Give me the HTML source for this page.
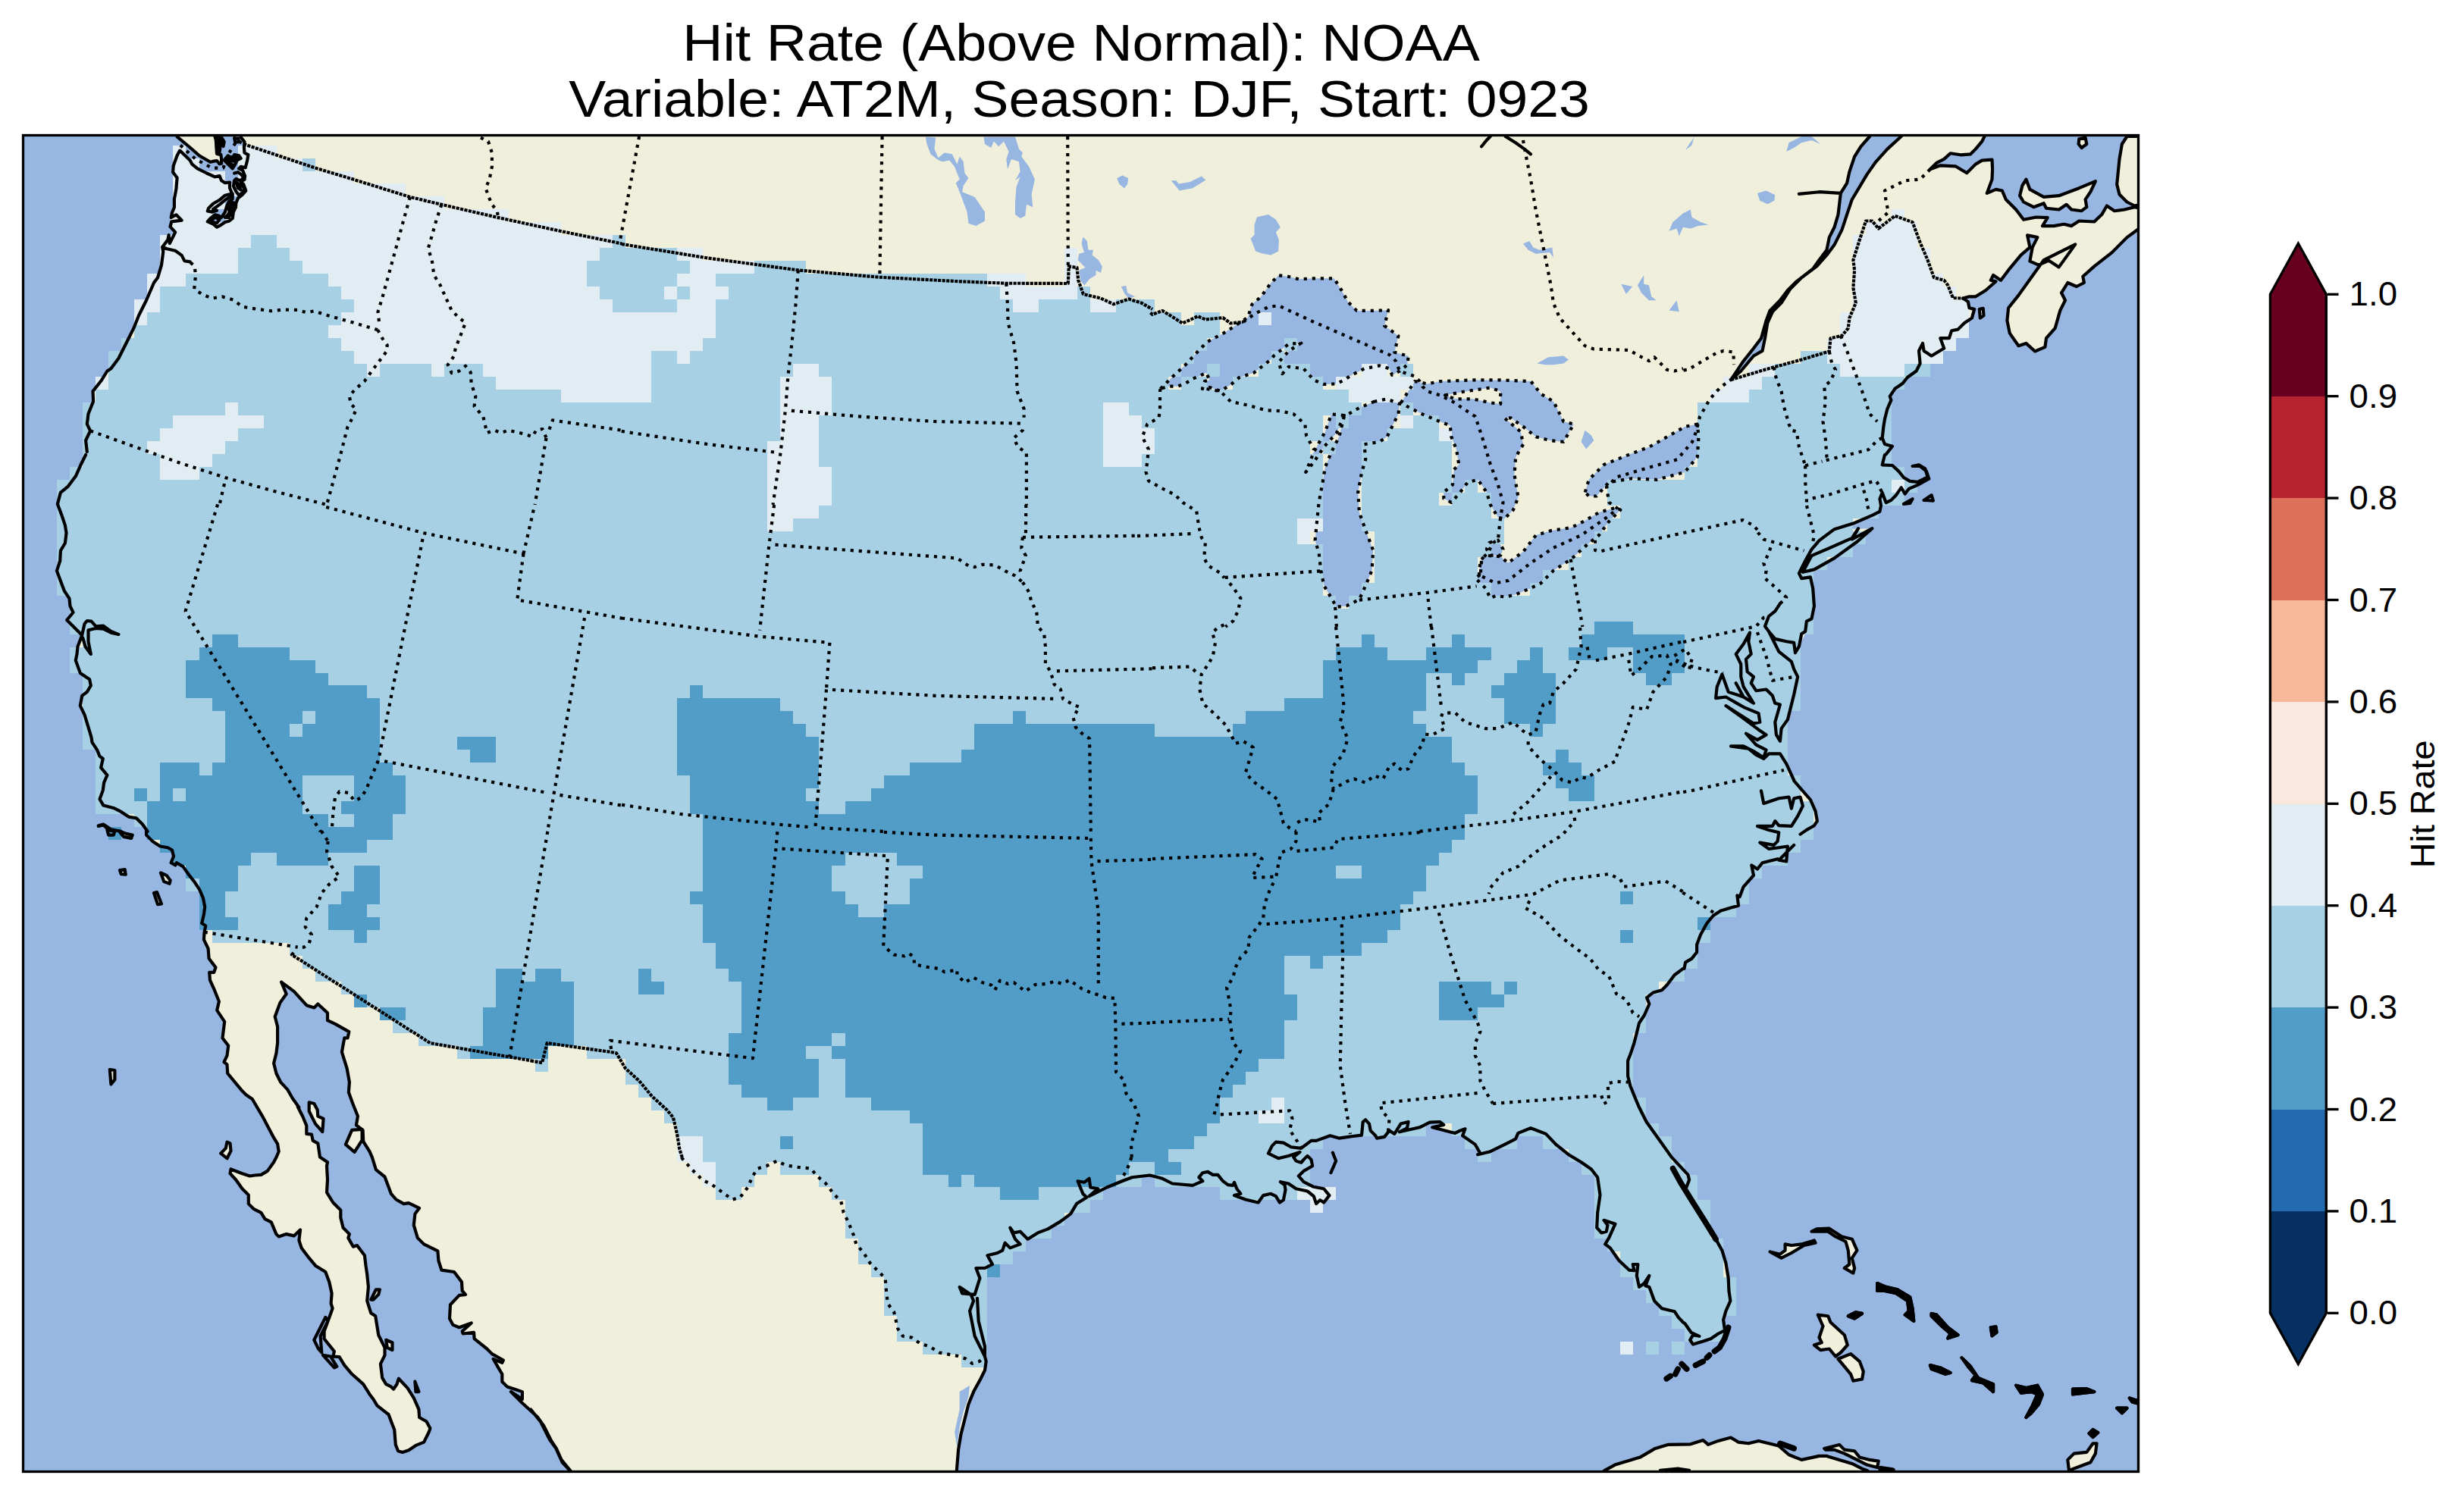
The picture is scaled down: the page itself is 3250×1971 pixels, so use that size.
<!DOCTYPE html>
<html><head><meta charset="utf-8"><title>Hit Rate</title>
<style>html,body{margin:0;padding:0;background:#fff}body{width:3250px;height:1971px;position:relative;overflow:hidden;font-family:"Liberation Sans",sans-serif}</style></head>
<body>
<svg width="3250" height="1971" viewBox="0 0 3250 1971" style="position:absolute;left:0;top:0">
<defs><clipPath id="fr"><rect x="30.5" y="178.5" width="2790.0" height="1763.0"/></clipPath></defs>
<g clip-path="url(#fr)">
<rect x="0" y="0" width="3250" height="1971" fill="#97b6e1"/>
<path d="M318.8 120 317.6 181 322.5 187.1 327.4 204.1 323.7 221.2 323.1 232.1 324.3 251.6 314 261.4 310.9 273.5 306.7 288.1 286 299.7 273.8 292.4 275 274.8 296.9 257.7 303 248 303 240.6 292.1 238.2 283.5 233.3 260.4 222.4 250.6 211.4 237.2 198.6 228.7 218.7 233.6 234.6 229.9 273.5 225.7 286.9 224.5 299.1 231.2 306.4 214.1 325.9 213 349.7 208 366.3 203 373 193 396.3 183 416.3 176.4 432.9 168.1 449.5 156.4 472.8 146.4 486.2 141.4 489.5 133.1 502.8 122.5 516.1 123.1 529.4 116.5 546.1 114.8 559.4 119.1 568.4 113.1 581 114.8 596 113.1 600 106.5 613.3 99.8 628.3 89.9 641.6 79.9 649.9 75.9 664.9 81.5 679.9 85.9 693.2 87.5 703.2 85.9 716.5 79.9 726.5 79.2 739.8 74.9 753.1 79.9 766.4 84.9 779.7 91.5 789.7 92.5 799.7 96.5 808 88.2 818 98.2 828 108.2 837.9 102.5 852.9 101.5 862.9 99.8 871.2 105.8 887.9 118.1 896.2 119.8 904.5 114.8 912.8 108.2 917.8 105.8 931.1 111.5 942.8 116.5 959.4 120.5 972.7 121.5 979.4 128.1 989.4 131.5 997.7 135.8 1001 133.1 1012.7 141.4 1022.6 137.1 1032.6 135.8 1042.6 131.5 1054.3 136.4 1062.6 149.8 1065.9 159.7 1070.9 169.7 1077.6 179.7 1079.2 188 1087.5 194.7 1096.9 193 1101.6 201.3 1109.9 211.3 1116.5 221.3 1118.2 227 1121.5 229 1129.8 225.6 1138.2 231.3 1141.5 233 1138.2 241.3 1143.1 249.6 1154.8 256.2 1163.1 262.9 1173.1 267.9 1184.7 270.2 1196.4 268.9 1206.4 266.2 1218 271.2 1221.4 269.6 1229.7 268.9 1239.7 274.6 1251.3 275.6 1264.6 284.5 1276.3 282.2 1282.9 276.2 1282.9 276.9 1292.9 282.9 1306.2 288.9 1321.2 286.2 1332.8 296.2 1347.8 293.5 1369.4 301.2 1379.4 299.5 1392.7 295.5 1401.1 299.5 1404.4 300.2 1416 319.5 1439.3 324.5 1444.3 332.8 1450 346.1 1472.6 361.1 1500.9 366.1 1509.2 367.7 1519.2 364.4 1526.9 361.1 1533.2 352.8 1544.9 344.4 1549.9 336.1 1550.5 329.5 1551.5 319.5 1548.2 304.5 1542.5 303.5 1548.2 311.2 1556.5 319.5 1568.2 327.8 1576.5 327.8 1588.1 334.5 1594.8 344.4 1599.8 349.4 1608.1 357.8 1612.4 364.4 1628.1 367.7 1631.4 377.7 1628.1 387.7 1630.4 396 1622.4 394.4 1636.4 397.7 1646.4 407.7 1659.7 416 1669.7 429.3 1678 434.3 1691.3 437.6 1706.3 436.6 1719.6 438.6 1726.2 432.6 1742.9 427.6 1756.2 427.6 1766.2 440.9 1782.8 439.3 1789.5 447.6 1790.1 454.3 1801.1 464.2 1812.8 479.2 1826.1 487.5 1839.4 492.5 1846 497.5 1854.4 512.5 1866 517.5 1879.3 520.2 1886 521.8 1905.9 525.1 1914.3 530.8 1915.9 539.1 1913.3 549.1 1906.6 559.1 1902.6 565.7 1889.3 567.4 1884.3 562.4 1875.3 553.1 1870 552.4 1859.4 545.8 1844.4 537.5 1831.1 525.8 1818.8 523.5 1826.1 519.2 1832.7 515.8 1829.4 509.2 1826.1 504.2 1817.8 501.9 1799.4 507.5 1787.8 507.5 1777.8 499.2 1761.2 495.2 1736.2 489.2 1732.2 484.2 1716.2 485.9 1697.9 484.2 1681.3 482.5 1669.7 480.9 1656.3 470.9 1643 465.9 1644.7 459.3 1633.1 460.9 1628.1 452.6 1619.7 449.3 1606.4 449.3 1596.4 439.3 1586.5 431 1573.1 432 1556.5 431 1538.2 432 1533.2 422 1526.6 419.3 1508.3 412.7 1504.9 411 1496.6 404.3 1495.9 404.3 1485 399.4 1473.3 392.7 1460 386 1449.3 379.4 1437.7 370.1 1427.7 364.4 1416 361.1 1402.7 364.4 1389.4 366.1 1376.1 366.1 1354.5 362.7 1341.2 369.4 1322.9 377.7 1311.2 371.1 1295.6 387.7 1307.9 404.3 1326.2 414.3 1329.5 419.3 1324.5 432 1336.2 432 1346.2 442.6 1351.1 460.3 1361.1 458.6 1369.4 454.3 1369.4 450.9 1387.8 457.6 1409.4 460.9 1427.7 459.9 1441 465.9 1457.6 471.9 1472.6 469.9 1484.3 478.6 1490.9 479.2 1505.9 487.5 1519.2 490.9 1526.9 495.9 1543.2 507.5 1552.5 515.8 1574.8 522.5 1582.5 532.5 1588.1 539.1 1587.1 553.1 1593.8 547.4 1601.4 545.8 1616.4 550.8 1633.1 559.1 1641.4 577.4 1650.4 578.4 1663 582.4 1675.6 599 1678 609 1691.3 609.7 1702.9 614 1707.9 605.7 1708.9 594 1721.2 593 1739.5 597.4 1747.9 605.7 1751.2 621.7 1745.5 609.7 1756.2 610.7 1759.5 625 1757.8 625.6 1766.2 642.3 1779.5 648.9 1786.1 663.9 1794.5 662.3 1797.8 650.6 1792.8 657.3 1804.4 662.3 1812.8 662.3 1822.7 668.9 1829.4 678.9 1832.7 688.9 1836.1 688.9 1846 673.9 1836.1 688.9 1851 708.8 1869.3 717.2 1881 727.2 1900.9 733.8 1910.9 740.5 1925.9 752.8 1940.9 758.8 1949.2 760 2000 1260 2000 1260.8 1952.5 1261.8 1940.9 1264.1 1912.6 1267.4 1892.6 1272.4 1872.7 1277.4 1852.7 1284.1 1836.1 1292.4 1821.1 1299 1807.8 1300.7 1796.1 1299 1789.5 1292.4 1776.2 1285.7 1762.8 1282.4 1746.2 1279.1 1729.6 1284.1 1716.2 1280.7 1707.9 1265.7 1697.9 1269.1 1706.3 1285.7 1707.9 1292.4 1686.3 1287.4 1673 1299 1673 1309 1668 1302.4 1656.3 1315.7 1653 1322.3 1649.7 1325.6 1639.7 1332.3 1646.4 1345.6 1641.4 1339 1634.7 1332.3 1619.7 1337.3 1626.4 1345.6 1624.7 1355.6 1634.7 1368.9 1626.4 1382.2 1621.4 1398.9 1611.4 1412.2 1601.4 1420 1588.1 1433.3 1579.8 1428.3 1574.8 1421.6 1558.2 1430 1559.8 1436.6 1554.8 1438.3 1566.5 1448.3 1568.2 1436.6 1578.1 1459.9 1566.5 1479.9 1558.2 1493.2 1553.2 1516.5 1550.5 1533.1 1554.8 1546.4 1561.5 1573.1 1563.8 1586.4 1558.2 1581.4 1553.2 1586.4 1547.2 1593 1545.9 1599.7 1549.9 1606.3 1549.9 1613 1558.2 1619.6 1563.2 1626.3 1563.8 1628 1559.8 1631.3 1568.2 1636.3 1574.8 1628 1577.1 1642.9 1582.5 1659.6 1586.5 1666.2 1577.1 1676.2 1574.8 1682.9 1578.1 1687.9 1586.5 1692.9 1583.1 1695.5 1569.8 1694.5 1563.2 1688.9 1559.2 1699.5 1561.5 1709.5 1568.2 1724.5 1571.5 1732.8 1578.1 1736.1 1588.1 1741.1 1583.1 1746.1 1586.5 1753.4 1577.1 1746.1 1568.2 1732.8 1565.8 1719.5 1559.2 1712.8 1551.5 1719.5 1544.9 1731.1 1538.2 1729.5 1529.9 1724.5 1524.9 1719.5 1529.9 1716.2 1533.9 1709.5 1531.6 1706.2 1526.6 1714.5 1519.9 1699.5 1524.9 1686.2 1528.2 1672.9 1521.6 1677.9 1511.6 1682.9 1506.6 1692.9 1507.6 1702.8 1513.2 1716.2 1514.9 1729.5 1504.9 1736.1 1504.9 1754.4 1498.3 1766.1 1501.6 1782.7 1499.3 1796 1497.6 1797.7 1480 1801 1477.3 1806 1482.6 1807.7 1491.6 1814.3 1498.3 1816 1501.6 1826 1499.9 1832.6 1491.6 1839.3 1495.9 1847.6 1482.6 1857.6 1480 1855.9 1488.3 1845.9 1493.3 1872.6 1487.3 1885.9 1480.6 1899.2 1480 1904.2 1484 1889.2 1487.3 1919.2 1494.9 1925.8 1491.6 1932.5 1489.3 1929.1 1498.3 1945.8 1509.9 1952.4 1521.6 1949.1 1523.2 1965.7 1519.2 1985.7 1509.3 1999 1502.6 2002.4 1494.9 2019 1488.3 2039 1495.9 2052.3 1509.9 2068.9 1523.2 2085.6 1533.2 2098.9 1542.5 2107.2 1553.2 2110.5 1576.5 2107.2 1599.8 2106.2 1619.7 2112.2 1626.4 2118.8 1624.7 2120.5 1616.4 2115.5 1609.8 2130.5 1614.7 2122.2 1633.1 2117.2 1641.4 2123.8 1646.4 2135.5 1663 2148.8 1675.6 2155.4 1676.3 2153.8 1668 2160.4 1668 2158.8 1683 2162.1 1697.9 2168.8 1693 2175.4 1683 2170.4 1696.3 2175.4 1697.9 2182.1 1716.2 2192 1726.2 2208.7 1730.2 2213.7 1737.9 2220 1744.5 2222.5 1746.2 2230.5 1757.8 2241.4 1762.8 2233.1 1761.2 2229.1 1767.8 2233.1 1773.5 2246.4 1769.5 2256.4 1766.2 2266.4 1759.5 2273.1 1756.2 2278 1752.9 2274.7 1752.9 2273.1 1741.2 2276.4 1729.6 2282.4 1716.2 2280.4 1702.9 2279.7 1686.3 2276.4 1666.3 2271.4 1649.7 2263.1 1634.7 2259.7 1626.4 2243.1 1599.8 2223.1 1569.8 2228.1 1556.5 2226.5 1549.9 2204.8 1526.6 2188.2 1503.3 2171.6 1480 2161.6 1460 2157.1 1449.3 2150.4 1432.7 2147.1 1419.4 2147.1 1399.4 2150.4 1391.1 2155.4 1376.1 2158.8 1362.8 2162.1 1349.5 2168.8 1339.5 2175.4 1324.5 2172.1 1316.2 2180.4 1309.5 2192 1306.2 2198.7 1299.6 2208.7 1286.2 2220 1277.9 2221.5 1277.9 2223.1 1269.6 2231.5 1264.6 2238.1 1256.3 2238.1 1246.3 2243.1 1233 2251.4 1218 2259.7 1208 2269.7 1201.4 2281.4 1198.1 2293 1194.7 2291.4 1181.4 2294.7 1183.1 2299.7 1169.8 2313 1154.8 2310.3 1141.5 2318 1146.5 2324.6 1138.2 2344.6 1133.2 2374.6 1100.6 2382.9 1094.9 2392.9 1089.2 2396.9 1083.2 2394.5 1069.9 2387.9 1055 2376.2 1041.6 2366.2 1030 2356.2 1007.7 2347.9 977.7 2362.9 929.5 2371.2 892.9 2367.9 861.2 2382.9 833 2392.9 799.7 2389.5 756.4 2419.5 736.4 2469.4 697.2 2419.5 698.2 2469.4 679.9 2482.7 666.6 2516 646.6 2544.3 631.6 2519.3 634.9 2504.3 621.6 2482.7 613.3 2486 600 2487.7 599.3 2496 588.7 2486 586 2482.7 577.7 2484.4 562.7 2486 552.7 2489.4 539.4 2494.4 527.8 2492.7 522.8 2499.4 512.8 2509.3 506.1 2516 497.8 2527.6 489.5 2532.6 479.5 2531 462.9 2536 452.9 2537.6 462.9 2547.6 469.5 2564.2 459.5 2559.3 446.2 2570.9 446.2 2574.2 436.2 2582.5 434.6 2590.9 426.2 2600.9 419.6 2604.2 407.9 2597.5 406.3 2595.9 398 2589.2 393.6 2597.5 391.3 2605.8 391.3 2619.2 383 2632.5 371.3 2625.8 369.7 2629.1 363 2639.1 369.7 2649.1 356.4 2665.7 336.4 2677.4 326.4 2674.1 310.4 2687.4 313.1 2680.7 326.4 2677.4 344.7 2689 349.7 2702.4 343.7 2715.7 352.4 2737.3 322.4 2715.7 333.1 2695.7 343.1 2679.1 366.3 2662.4 389.6 2649.1 406.3 2647.4 422.9 2650.8 439.6 2662.4 456.2 2672.4 452.9 2684.1 463.5 2697.4 457.9 2699 446.2 2710.7 432.9 2717.3 409.6 2724 396.3 2719 386.3 2727.3 373 2739 378 2748.9 373 2747.3 364.7 2762.3 351.4 2785.6 333.1 2805.5 313.1 2823.8 299.8 2900 300 2900 275 2823.8 274.8 2815.5 273.2 2802.2 276.5 2788.9 278.2 2778.9 271.5 2772.2 283.1 2762.3 292.5 2742.3 291.5 2732.3 298.1 2722.3 295.8 2709 298.1 2694 298.1 2700.7 287.1 2685.7 286.5 2669.1 289.8 2659.1 276.5 2645.8 263.2 2640.8 251.5 2632.5 249.9 2620.8 254.9 2627.5 236.6 2628.1 223.2 2627.5 210.6 2614.2 211.6 2605.8 216.6 2594.2 228.2 2579.2 219.3 2559.3 218.3 2545.9 223.2 2554.3 214.9 2564.2 209.9 2572.6 202.3 2585.9 204.3 2599.2 203.3 2605.8 196.6 2614.2 186.6 2617.5 180 2617.5 120 2507.7 120 2507.7 180 2489.4 196.6 2474.4 213.3 2462.7 229.9 2452.8 246.5 2442.8 263.2 2436.1 283.1 2429.5 303.1 2419.5 323.1 2409.5 336.4 2396.2 351.4 2376.2 366.3 2361.2 381.3 2349.6 399.6 2337.9 411.3 2331.3 426.2 2328 446.2 2324.6 462.9 2313 469.5 2296.3 489.5 2283 501.1 2299.7 476.2 2313 459.5 2323 446.2 2329.6 422.9 2334.6 409.6 2347.9 396.3 2357.9 383 2369.6 371.3 2391.2 354.7 2399.5 343.1 2409.5 329.7 2412.8 313.1 2419.5 299.8 2424.5 283.1 2426.1 269.8 2427.8 254.9 2436.1 241.6 2439.4 226.6 2446.1 206.6 2454.4 193.3 2466.1 180 2466 120ZM233.6 120 233.6 180.4 248.2 192.5 262.8 205.3 277.4 213.8 282.3 212.6 286 212 289.6 216.3 292.1 215.7 292.1 210.2 291.4 204.1 286 202.9 285.4 194.4 284.8 184.6 283.5 180.4 283.5 120ZM1906 521.4 1932.6 516.4 1965.9 511.4 1979.2 516.4 1979.2 533 1965.9 531.3 1942.6 526.3 1919.3 526.3ZM2805.5 180 2798.9 190 2795.5 209.9 2792.2 243.2 2795.5 256.5 2805.5 266.5 2815.5 271.5 2823.8 269.8 2823.8 180ZM2672.4 236.6 2677.4 249.9 2695.7 259.9 2715.7 258.2 2742.3 248.2 2763.9 239.2 2757.3 253.2 2750.6 263.2 2752.3 273.2 2745.6 278.2 2732.3 276.5 2725.6 269.8 2715.7 276.5 2699 274.8 2695.7 268.2 2682.4 273.2 2669.1 266.5 2664.1 258.2 2667.4 244.9ZM2742.3 183.3 2750.6 181.6 2752.3 190 2745.6 195 2741.6 190ZM2610.8 407.9 2615.8 406.9 2616.5 416.3 2611.8 419.6ZM407.7 1454.3 414.3 1456 418.7 1464.3 419.3 1472.6 426.6 1475.9 425.3 1493.2 416 1482.6 407.7 1466ZM464.2 1490.9 477.6 1489.9 477.6 1504.2 467.6 1519.9 455.9 1509.9ZM141.4 1094.9 151.4 1096.6 149.8 1101.6 143.1 1101.6ZM156.4 1095.9 166.4 1099.9 174.7 1101.6 173.1 1105.9 163.1 1103.9ZM158.1 1148.1 164.7 1147.1 165.7 1153.8 159.7 1153.1ZM212 1151.5 219.6 1154.8 224.6 1161.5 223.6 1165.8 216.3 1163.1ZM203 1178.1 207 1177.1 213 1192.4 208 1193.1ZM144.8 1411 151.4 1412 151.4 1424.4 146.4 1430.3ZM291.2 1521.6 297.8 1514.9 299.5 1506.6 303.5 1508.3 304.5 1518.2 299.5 1528.2ZM489.2 1714.6 495.9 1701.3 500.9 1701.3 499.2 1707.9 492.5 1714.6ZM509.2 1767.8 517.5 1771.2 517.5 1781.1 510.8 1777.8ZM547.4 1822.7 552.4 1836.1 548.4 1836.1ZM2110 1945.9 2116.6 1939.9 2130 1932.6 2163.2 1922.6 2183.2 1910.9 2199.8 1905.9 2229.8 1905.3 2246.4 1900 2253.1 1905.9 2266.4 1900.9 2283 1896.6 2293 1902.6 2306.3 1904.3 2319.6 1900.9 2333 1904.3 2346.3 1907.6 2359.6 1919.3 2376.2 1925.9 2399.5 1920.9 2409.5 1920.9 2426.1 1925.9 2442.8 1930.9 2456.1 1937.6 2462.7 1939.9 2469.4 1945.9ZM2406.2 1910.9 2426.1 1905.9 2432.8 1912.6 2446.1 1914.3 2452.8 1922.6 2466.1 1925.9 2477.7 1927.6 2476.1 1935.9 2462.7 1932.6 2449.4 1925.9 2432.8 1917.6 2419.5 1912.6 2407.8 1912.6ZM2334.6 1651.4 2349.6 1659.7 2362.9 1653 2379.5 1643 2394.5 1639.7 2392.9 1636.4 2376.2 1641.4 2362.9 1643 2354.6 1641.4 2354.6 1649.7 2347.9 1654.7ZM2389.5 1624.7 2396.2 1621.4 2412.8 1620.7 2429.5 1631.4 2442.8 1634.7 2449.4 1649.7 2442.8 1659.7 2446.1 1673 2444.4 1679.6 2432.8 1673 2439.4 1668 2437.8 1649.7 2434.5 1638 2421.1 1631.4 2411.2 1624.7 2399.5 1624.7ZM2397.8 1734.6 2411.2 1736.2 2414.5 1744.5 2432.8 1761.2 2436.8 1774.5 2427.8 1784.5 2421.1 1789.5 2412.8 1779.5 2401.2 1781.1 2392.9 1774.5 2402.8 1771.2 2399.5 1764.5 2404.5 1749.5ZM2424.5 1792.8 2441.1 1786.1 2452.8 1796.1 2457.8 1809.4 2456.1 1819.4 2444.4 1821.7 2441.1 1812.8 2432.8 1802.8ZM2437.8 1736.2 2447.8 1731.2 2456.1 1732.9 2446.1 1739.5ZM2476.1 1693 2487.7 1697.9 2502.7 1701.3 2519.3 1711.3 2522.6 1726.2 2524.3 1742.9 2512.7 1734.6 2517.7 1729.6 2516 1716.2 2501 1706.3 2486 1702.9 2476.1 1702.9ZM2547.6 1732.9 2554.3 1734.6 2569.2 1751.2 2582.5 1761.2 2569.2 1765.5 2572.6 1759.5 2559.3 1747.9 2547.6 1736.2ZM2625.8 1751.2 2632.5 1750.2 2633.5 1757.8 2627.5 1762.2ZM2545.9 1801.1 2559.3 1804.4 2572.6 1811.1 2565.9 1812.8 2547.6 1806.1ZM2587.5 1791.1 2599.2 1802.8 2609.2 1817.8 2629.1 1826.1 2629.1 1836.1 2615.8 1824.4 2600.9 1821.1 2605.8 1814.4 2595.9 1802.8ZM2659.1 1827.7 2672.4 1831.1 2687.4 1827.7 2694 1839.4 2689 1852.7 2679.1 1864.3 2672.4 1870 2680.7 1854.4 2687.4 1839.4 2679.1 1836.1 2665.7 1837.7ZM2734 1832.7 2752.3 1832.1 2762.3 1836.1 2748.9 1837.7 2734 1839.4ZM2792.2 1857.7 2805.5 1857.7 2798.9 1864.3ZM2808.8 1844.4 2823.8 1849.4 2823.8 1852.7 2812.2 1849.4ZM2727.3 1925.9 2735.6 1917.6 2752.3 1915.9 2760.6 1904.3 2765.6 1904.3 2763.9 1917.6 2757.3 1929.2 2729 1939.9ZM2755.6 1891 2760.6 1886 2767.2 1890 2760.6 1896Z" fill="#efefdb"/>
<path d="M1220.8 180.6 1234.1 181.6 1232.5 196.6 1237.5 208.3 1245.8 201.6 1255.8 203.3 1262.4 216.6 1265.7 206.6 1270.7 213.3 1272.4 228.2 1277.4 234.9 1270.7 244.9 1269.1 253.2 1285.7 259.9 1299 279.8 1299 291.5 1287.4 298.1 1277.4 294.8 1275.7 279.8 1265.7 253.2 1260.8 241.6 1265.7 236.6 1259.1 219.9 1252.4 211.6 1242.5 213.3 1235.8 209.9 1227.5 203.3 1222.5 190ZM1297.4 180.6 1339 180.6 1344 196.6 1348.9 201.6 1347.3 206.6 1357.3 219.9 1364.9 236.6 1360.6 256.5 1362.3 273.2 1353.9 269.8 1352.3 284.8 1345.6 288.1 1339 283.1 1339 266.5 1340.6 246.5 1345.6 233.2 1339 238.2 1345.6 226.6 1344 213.3 1334 209.9 1329 223.2 1327.3 209.9 1330.6 200 1324 186.6 1317.3 193.3 1310.7 186.6 1307.3 195 1299 190ZM1473.7 234.9 1480.4 231.6 1488.1 234.9 1487.1 243.2 1482.7 248.2 1477.1 243.2ZM1428.8 313.1 1433.8 318.1 1435.5 329.7 1442.1 329.7 1440.5 336.4 1448.8 343.1 1453.8 351.4 1452.1 359.7 1445.5 356.4 1445.5 363 1437.1 368 1430.5 376.3 1425.5 369.7 1423.8 356.4 1432.1 353 1422.2 343.1 1423.8 334.7 1430.5 333.1 1427.2 321.4ZM1478.7 378 1485.4 377 1487.1 386.3 1497 391.3 1503.7 389.6 1488.7 393.6 1483.7 388ZM1657.9 286.5 1672.9 283.1 1682.9 289.8 1688.9 299.8 1682.9 306.4 1686.9 316.4 1686.2 331.4 1676.2 336.4 1666.2 334.7 1656.2 331.4 1649.6 314.8 1654.6 309.8 1654.6 296.5ZM1473.2 234.9 1481.5 231.6 1488.2 238.2 1483.2 248.2 1476.5 243.2ZM1544.8 238.2 1551.4 238.2 1554.7 242.5 1569.7 239.9 1584.7 232.6 1590.4 237.6 1573.1 248.2 1555.7 251.5ZM2009 321.4 2017.3 318.1 2022.3 326.4 2030.6 329.7 2047.3 326.4 2048.9 339.7 2044 333.1 2025.6 334.7 2015.7 329.7ZM2027.3 479.5 2042.3 471.2 2062.3 469.5 2068.9 474.5 2062.3 479.5 2048.9 481.2 2039 481.2ZM2090.5 567.7 2098.9 574.3 2102.2 581 2092.2 592.6 2085.6 582.7ZM1428.3 313.1 1433.3 318.1 1434.9 329.7 1441.6 329.7 1439.9 336.4 1448.3 343.1 1453.2 351.4 1451.6 359.7 1444.9 356.4 1444.9 363 1436.6 368 1430 376.3 1425 369.7 1423.3 356.4 1431.6 353 1421.6 343.1 1423.3 334.7 1430 333.1 1426.6 321.4ZM1530.6 513 1546.9 496.7 1562.9 482.1 1577.9 465.8 1592.2 451.1 1613.5 439.8 1626.5 431.5 1646.1 418.5 1651.4 401.6 1663.1 391.6 1676.4 373.3 1686.4 363.3 1699.7 364.9 1713 368.3 1733 367.3 1759.6 367.3 1769.6 383.2 1777.9 398.2 1789.5 409.9 1809.5 409.9 1831.1 409.2 1826.1 429.8 1844.4 443.1 1839.4 464.8 1857.8 469.8 1856.1 481.4 1846.1 489.7 1836.1 494.7 1832.8 486.4 1819.5 482.4 1799.5 486.4 1782.9 494.7 1772.9 501.4 1762.9 506.4 1746.3 507 1733 501.4 1719.6 486.4 1699.7 483.8 1691.4 493.1 1686.4 478.1 1699.7 463.1 1716.3 452.5 1699.7 453.8 1679.7 469.8 1677 473.8 1664.1 483.8 1654.1 491.7 1634.4 498.1 1624.8 506.4 1610.2 516 1595.5 511 1585.9 513 1588.9 503.1 1595.5 501.4 1590.9 491.7 1580.9 496.7 1572.9 499.7 1562.9 506.4 1553.2 509.7 1540.3 509.7ZM1812.8 529.7 1792.9 538 1772.9 549.6 1766.2 576.3 1756.2 596.2 1747.9 616.2 1744.6 636.2 1739.6 662.8 1736.9 689.4 1734.6 712.7 1739.6 729.4 1742.3 752.6 1746.3 772.6 1756.2 789.3 1762.9 800.9 1776.2 799.2 1792.9 790.9 1801.2 772.6 1809.5 752.6 1811.2 726 1801.2 699.4 1792.9 676.1 1791.2 649.5 1796.2 622.9 1801.2 606.2 1799.5 586.2 1819.5 582.9 1829.5 576.3 1836.1 563 1844.4 546.3 1846.1 533 1829.5 526.3ZM1772.9 548 1756.2 546.3 1747.9 569.6 1733 596.2 1722.3 622.9 1733 609.5 1746.3 589.6 1762.9 571.3ZM1847.8 531.3 1866.1 503.1 1882.7 506.4 1899.4 503.1 1942.6 501.4 1979.2 501.4 2019.2 503.1 2032.5 519.7 2049.1 529.7 2062.4 556.3 2075.7 559.6 2062.4 582.9 2045.8 581.3 2025.8 576.3 2009.2 563 1992.5 551.3 1984.2 551.3 2005.8 569.6 2009.2 586.2 1999.2 602.9 1997.5 626.2 2002.5 656.1 1995.9 672.8 1984.2 684.4 1975.9 682.8 1965.9 666.1 1960.9 649.5 1949.3 632.8 1936 636.2 1926 649.5 1914.3 662.8 1904.3 657.8 1904.3 649.5 1916 639.5 1917.7 619.5 1924.3 612.9 1921 592.9 1914.3 576.3 1912.7 561.3 1899.4 556.3 1876.1 546.3 1859.4 538ZM1950.9 759.3 1952.6 739.3 1959.3 732.7 1979.2 734.3 1989.2 742.7 2009.2 727.7 2025.8 706.1 2045.8 700.1 2072.4 696.1 2089 687.8 2109 676.1 2132.3 669.4 2137.3 672.8 2122.3 687.8 2109 706.1 2092.4 719.4 2072.4 737.7 2049.1 752.6 2032.5 769.3 2019.2 775.9 1999.2 784.3 1985.9 787.6 1972.6 785.9 1965.9 789.3 1959.3 775.9 1945.9 762.6ZM1964.2 716 1975.9 712.7 1982.5 724.4 1979.2 732.7 1965.9 732.7 1960.9 724.4ZM2090.7 649.5 2095.7 632.8 2115.7 612.9 2148.9 599.6 2175.6 589.6 2198.9 576.3 2222.2 563 2238.8 559.6 2240.5 576.3 2238.8 602.9 2222.2 622.9 2185.6 632.8 2152.3 631.2 2122.3 636.2 2105.7 654.5 2095.7 654.5ZM2318 254.9 2329.6 251.5 2341.3 257.2 2340.3 264.8 2331.3 269.2 2321.3 264.8ZM2201.5 304.8 2206.5 293.1 2219.8 281.5 2229.8 276.5 2231.5 286.5 2243.1 293.1 2253.1 296.5 2239.8 298.1 2229.8 301.5 2219.8 299.8 2214.8 311.4 2211.5 301.5ZM2138.3 374.7 2153.2 378 2144.9 388ZM2159.9 376.3 2168.2 363 2168.2 374.7 2174.9 376.3 2178.2 391.3 2184.9 396.3 2174.9 396.3 2164.9 386.3ZM2201.5 409.6 2211.5 396.3 2214.8 411.3ZM2356.2 200 2359.6 188.3 2376.2 180 2389.5 180 2401.2 190 2389.5 185 2376.2 188.3 2366.2 195ZM2223.1 198.3 2228.1 190 2233.1 183.3 2234.8 180.6 2231.5 191.6ZM1265.7 1836.1 1279.1 1827.7 1277.4 1842.7 1270.7 1862.7 1265.7 1882.6 1262.4 1909.3 1259.1 1889.3 1265.7 1859.4Z" fill="#97b6e1"/>
<path d="M1906 521.4 1932.6 516.4 1965.9 511.4 1979.2 516.4 1979.2 533 1965.9 531.3 1942.6 526.3 1919.3 526.3Z" fill="#efefdb"/>
<g shape-rendering="crispEdges">
<path d="M398.8 208.5H415.8V225.5H398.8ZM330.6 310.3H364.7V327.3H330.6ZM807.8 310.3H824.8V327.3H807.8ZM313.6 327.3H381.8V344.3H313.6ZM790.7 327.3H893V344.3H790.7ZM313.6 344.3H398.8V361.2H313.6ZM773.7 344.3H910V361.2H773.7ZM995.2 344.3H1063.3V361.2H995.2ZM245.4 361.2H432.9V378.2H245.4ZM773.7 361.2H893V378.2H773.7ZM944.1 361.2H1301.9V378.2H944.1ZM211.4 378.2H449.9V395.2H211.4ZM790.7 378.2H875.9V395.2H790.7ZM893 378.2H910V395.2H893ZM961.1 378.2H1318.9V395.2H961.1ZM1421.2 378.2H1438.2V395.2H1421.2ZM211.4 395.2H467V412.2H211.4ZM807.8 395.2H893V412.2H807.8ZM944.1 395.2H1336V412.2H944.1ZM1370.1 395.2H1438.2V412.2H1370.1ZM1472.3 395.2H1523.4V412.2H1472.3ZM194.3 412.2H449.9V429.1H194.3ZM944.1 412.2H1557.5V429.1H944.1ZM1574.5 412.2H1608.6V429.1H1574.5ZM177.3 429.1H432.9V446.1H177.3ZM944.1 429.1H1608.6V446.1H944.1ZM160.2 446.1H449.9V463.1H160.2ZM927 446.1H1591.6V463.1H927ZM1693.8 446.1H1710.9V463.1H1693.8ZM143.2 463.1H467V480.1H143.2ZM858.9 463.1H893V480.1H858.9ZM910 463.1H1574.5V480.1H910ZM1676.8 463.1H1693.8V480.1H1676.8ZM2375.4 463.1H2409.5V480.1H2375.4ZM143.2 480.1H484V497H143.2ZM501 480.1H569.2V497H501ZM586.2 480.1H637.4V497H586.2ZM858.9 480.1H1046.3V497H858.9ZM1080.4 480.1H1557.5V497H1080.4ZM1591.6 480.1H1608.6V497H1591.6ZM1659.7 480.1H1727.9V497H1659.7ZM1847.2 480.1H1864.2V497H1847.2ZM2341.3 480.1H2426.5V497H2341.3ZM2511.7 480.1H2545.8V497H2511.7ZM143.2 497H654.4V514H143.2ZM858.9 497H1029.3V514H858.9ZM1097.4 497H1540.5V514H1097.4ZM1557.5 497H1591.6V514H1557.5ZM1625.7 497H1744.9V514H1625.7ZM2324.3 497H2511.7V514H2324.3ZM126.2 514H739.6V531H126.2ZM858.9 514H1029.3V531H858.9ZM1097.4 514H1779V531H1097.4ZM2307.2 514H2494.7V531H2307.2ZM109.1 531H296.6V548H109.1ZM313.6 531H1029.3V548H313.6ZM1097.4 531H1455.3V548H1097.4ZM1489.3 531H1796.1V548H1489.3ZM1847.2 531H1864.2V548H1847.2ZM2239.1 531H2494.7V548H2239.1ZM109.1 548H228.4V564.9H109.1ZM347.7 548H1029.3V564.9H347.7ZM1080.4 548H1455.3V564.9H1080.4ZM1506.4 548H1744.9V564.9H1506.4ZM1762 548H1779V564.9H1762ZM1864.2 548H1898.3V564.9H1864.2ZM2239.1 548H2494.7V564.9H2239.1ZM109.1 564.9H211.4V581.9H109.1ZM313.6 564.9H1029.3V581.9H313.6ZM1080.4 564.9H1455.3V581.9H1080.4ZM1523.4 564.9H1744.9V581.9H1523.4ZM1830.1 564.9H1898.3V581.9H1830.1ZM2239.1 564.9H2494.7V581.9H2239.1ZM109.1 581.9H194.3V598.9H109.1ZM296.6 581.9H1012.2V598.9H296.6ZM1080.4 581.9H1455.3V598.9H1080.4ZM1523.4 581.9H1727.9V598.9H1523.4ZM1744.9 581.9H1762V598.9H1744.9ZM1796.1 581.9H1915.3V598.9H1796.1ZM2239.1 581.9H2494.7V598.9H2239.1ZM109.1 598.9H211.4V615.9H109.1ZM279.5 598.9H1012.2V615.9H279.5ZM1080.4 598.9H1455.3V615.9H1080.4ZM1506.4 598.9H1744.9V615.9H1506.4ZM1796.1 598.9H1915.3V615.9H1796.1ZM2239.1 598.9H2494.7V615.9H2239.1ZM92.1 615.9H211.4V632.8H92.1ZM262.5 615.9H1012.2V632.8H262.5ZM1097.4 615.9H1744.9V632.8H1097.4ZM1796.1 615.9H1915.3V632.8H1796.1ZM2222 615.9H2511.7V632.8H2222ZM75 632.8H1012.2V649.8H75ZM1097.4 632.8H1744.9V649.8H1097.4ZM1796.1 632.8H1915.3V649.8H1796.1ZM1932.4 632.8H1949.4V649.8H1932.4ZM2119.8 632.8H2494.7V649.8H2119.8ZM2511.7 632.8H2528.8V649.8H2511.7ZM75 649.8H1012.2V666.8H75ZM1097.4 649.8H1744.9V666.8H1097.4ZM1796.1 649.8H1898.3V666.8H1796.1ZM1915.3 649.8H1966.5V666.8H1915.3ZM2119.8 649.8H2511.7V666.8H2119.8ZM75 666.8H1012.2V683.8H75ZM1080.4 666.8H1744.9V683.8H1080.4ZM1796.1 666.8H1966.5V683.8H1796.1ZM2136.8 666.8H2477.6V683.8H2136.8ZM75 683.8H1012.2V700.7H75ZM1046.3 683.8H1710.9V700.7H1046.3ZM1796.1 683.8H1983.5V700.7H1796.1ZM2119.8 683.8H2443.6V700.7H2119.8ZM75 700.7H1710.9V717.7H75ZM1813.1 700.7H1983.5V717.7H1813.1ZM2102.8 700.7H2460.6V717.7H2102.8ZM75 717.7H1744.9V734.7H75ZM1813.1 717.7H1966.5V734.7H1813.1ZM2085.7 717.7H2443.6V734.7H2085.7ZM75 734.7H1744.9V751.7H75ZM1813.1 734.7H1949.4V751.7H1813.1ZM2068.7 734.7H2409.5V751.7H2068.7ZM75 751.7H1744.9V768.6H75ZM1813.1 751.7H1949.4V768.6H1813.1ZM2034.6 751.7H2392.4V768.6H2034.6ZM75 768.6H1744.9V785.6H75ZM1796.1 768.6H1966.5V785.6H1796.1ZM2017.6 768.6H2392.4V785.6H2017.6ZM92.1 785.6H1762V802.6H92.1ZM1779 785.6H2392.4V802.6H1779ZM92.1 802.6H2392.4V819.6H92.1ZM92.1 819.6H2102.8V836.5H92.1ZM2153.9 819.6H2392.4V836.5H2153.9ZM109.1 836.5H279.5V853.5H109.1ZM313.6 836.5H1796.1V853.5H313.6ZM1813.1 836.5H1915.3V853.5H1813.1ZM1932.4 836.5H2085.7V853.5H1932.4ZM2222 836.5H2375.4V853.5H2222ZM92.1 853.5H262.5V870.5H92.1ZM381.8 853.5H1762V870.5H381.8ZM1830.1 853.5H1881.3V870.5H1830.1ZM1966.5 853.5H2017.6V870.5H1966.5ZM2034.6 853.5H2068.7V870.5H2034.6ZM2119.8 853.5H2153.9V870.5H2119.8ZM2222 853.5H2375.4V870.5H2222ZM92.1 870.5H245.4V887.5H92.1ZM415.8 870.5H1744.9V887.5H415.8ZM1949.4 870.5H2000.5V887.5H1949.4ZM2034.6 870.5H2153.9V887.5H2034.6ZM2222 870.5H2375.4V887.5H2222ZM109.1 887.5H245.4V904.4H109.1ZM432.9 887.5H1744.9V904.4H432.9ZM1881.3 887.5H1915.3V904.4H1881.3ZM1932.4 887.5H1983.5V904.4H1932.4ZM2051.7 887.5H2170.9V904.4H2051.7ZM2205 887.5H2375.4V904.4H2205ZM109.1 904.4H245.4V921.4H109.1ZM484 904.4H910V921.4H484ZM927 904.4H1744.9V921.4H927ZM1881.3 904.4H1966.5V921.4H1881.3ZM2051.7 904.4H2375.4V921.4H2051.7ZM109.1 921.4H279.5V938.4H109.1ZM501 921.4H893V938.4H501ZM1029.3 921.4H1693.8V938.4H1029.3ZM1881.3 921.4H1983.5V938.4H1881.3ZM2051.7 921.4H2375.4V938.4H2051.7ZM109.1 938.4H296.6V955.3H109.1ZM398.8 938.4H415.8V955.3H398.8ZM501 938.4H893V955.3H501ZM1046.3 938.4H1336V955.3H1046.3ZM1353 938.4H1642.7V955.3H1353ZM1864.2 938.4H1983.5V955.3H1864.2ZM2051.7 938.4H2358.4V955.3H2051.7ZM109.1 955.3H296.6V972.3H109.1ZM381.8 955.3H398.8V972.3H381.8ZM501 955.3H893V972.3H501ZM1063.3 955.3H1284.9V972.3H1063.3ZM1523.4 955.3H1625.7V972.3H1523.4ZM1881.3 955.3H2017.6V972.3H1881.3ZM2034.6 955.3H2358.4V972.3H2034.6ZM109.1 972.3H296.6V989.3H109.1ZM501 972.3H603.3V989.3H501ZM654.4 972.3H893V989.3H654.4ZM1080.4 972.3H1284.9V989.3H1080.4ZM1915.3 972.3H2358.4V989.3H1915.3ZM126.2 989.3H296.6V1006.3H126.2ZM501 989.3H620.3V1006.3H501ZM654.4 989.3H893V1006.3H654.4ZM1080.4 989.3H1267.8V1006.3H1080.4ZM1915.3 989.3H2051.7V1006.3H1915.3ZM2068.7 989.3H2358.4V1006.3H2068.7ZM126.2 1006.3H211.4V1023.2H126.2ZM262.5 1006.3H279.5V1023.2H262.5ZM518.1 1006.3H893V1023.2H518.1ZM1080.4 1006.3H1199.7V1023.2H1080.4ZM1932.4 1006.3H2034.6V1023.2H1932.4ZM2085.7 1006.3H2358.4V1023.2H2085.7ZM126.2 1023.2H211.4V1040.2H126.2ZM398.8 1023.2H467V1040.2H398.8ZM535.1 1023.2H910V1040.2H535.1ZM1080.4 1023.2H1165.6V1040.2H1080.4ZM1949.4 1023.2H2051.7V1040.2H1949.4ZM2102.8 1023.2H2375.4V1040.2H2102.8ZM126.2 1040.2H177.3V1057.2H126.2ZM194.3 1040.2H211.4V1057.2H194.3ZM228.4 1040.2H245.4V1057.2H228.4ZM398.8 1040.2H467V1057.2H398.8ZM535.1 1040.2H910V1057.2H535.1ZM1063.3 1040.2H1148.5V1057.2H1063.3ZM1949.4 1040.2H2068.7V1057.2H1949.4ZM2102.8 1040.2H2375.4V1057.2H2102.8ZM126.2 1057.2H194.3V1074.2H126.2ZM398.8 1057.2H449.9V1074.2H398.8ZM535.1 1057.2H910V1074.2H535.1ZM1080.4 1057.2H1114.5V1074.2H1080.4ZM1949.4 1057.2H2392.4V1074.2H1949.4ZM177.3 1074.2H194.3V1091.1H177.3ZM432.9 1074.2H467V1091.1H432.9ZM518.1 1074.2H927V1091.1H518.1ZM1932.4 1074.2H2392.4V1091.1H1932.4ZM518.1 1091.1H927V1108.1H518.1ZM1932.4 1091.1H2392.4V1108.1H1932.4ZM484 1108.1H927V1125.1H484ZM1915.3 1108.1H2375.4V1125.1H1915.3ZM330.6 1125.1H364.7V1142.1H330.6ZM432.9 1125.1H927V1142.1H432.9ZM1114.5 1125.1H1182.6V1142.1H1114.5ZM1898.3 1125.1H2358.4V1142.1H1898.3ZM313.6 1142.1H467V1159H313.6ZM501 1142.1H927V1159H501ZM1097.4 1142.1H1216.7V1159H1097.4ZM1762 1142.1H1796.1V1159H1762ZM1881.3 1142.1H2324.3V1159H1881.3ZM245.4 1159H262.5V1176H245.4ZM313.6 1159H467V1176H313.6ZM501 1159H927V1176H501ZM1097.4 1159H1199.7V1176H1097.4ZM1881.3 1159H2307.2V1176H1881.3ZM296.6 1176H449.9V1193H296.6ZM501 1176H910V1193H501ZM1114.5 1176H1199.7V1193H1114.5ZM1864.2 1176H2136.8V1193H1864.2ZM2153.9 1176H2307.2V1193H2153.9ZM296.6 1193H432.9V1210H296.6ZM484 1193H927V1210H484ZM1131.5 1193H1165.6V1210H1131.5ZM1847.2 1193H2290.2V1210H1847.2ZM313.6 1210H432.9V1226.9H313.6ZM501 1210H927V1226.9H501ZM1847.2 1210H2239.1V1226.9H1847.2ZM279.5 1226.9H467V1243.9H279.5ZM484 1226.9H927V1243.9H484ZM1830.1 1226.9H2136.8V1243.9H1830.1ZM2153.9 1226.9H2256.1V1243.9H2153.9ZM381.8 1243.9H944.1V1260.9H381.8ZM1796.1 1243.9H2239.1V1260.9H1796.1ZM398.8 1260.9H944.1V1277.9H398.8ZM1693.8 1260.9H1727.9V1277.9H1693.8ZM1744.9 1260.9H2239.1V1277.9H1744.9ZM415.8 1277.9H654.4V1294.8H415.8ZM688.5 1277.9H705.5V1294.8H688.5ZM739.6 1277.9H841.8V1294.8H739.6ZM858.9 1277.9H961.1V1294.8H858.9ZM1693.8 1277.9H2222V1294.8H1693.8ZM449.9 1294.8H654.4V1311.8H449.9ZM756.6 1294.8H841.8V1311.8H756.6ZM875.9 1294.8H978.1V1311.8H875.9ZM1693.8 1294.8H1898.3V1311.8H1693.8ZM1966.5 1294.8H1983.5V1311.8H1966.5ZM2000.5 1294.8H2188V1311.8H2000.5ZM484 1311.8H654.4V1328.8H484ZM756.6 1311.8H978.1V1328.8H756.6ZM1710.9 1311.8H1898.3V1328.8H1710.9ZM1983.5 1311.8H2170.9V1328.8H1983.5ZM535.1 1328.8H637.4V1345.8H535.1ZM756.6 1328.8H978.1V1345.8H756.6ZM1710.9 1328.8H1898.3V1345.8H1710.9ZM1949.4 1328.8H2170.9V1345.8H1949.4ZM518.1 1345.8H637.4V1362.7H518.1ZM756.6 1345.8H978.1V1362.7H756.6ZM1693.8 1345.8H2170.9V1362.7H1693.8ZM552.2 1362.7H637.4V1379.7H552.2ZM756.6 1362.7H961.1V1379.7H756.6ZM1097.4 1362.7H1114.5V1379.7H1097.4ZM1693.8 1362.7H2153.9V1379.7H1693.8ZM603.3 1379.7H620.3V1396.7H603.3ZM773.7 1379.7H961.1V1396.7H773.7ZM1063.3 1379.7H1097.4V1396.7H1063.3ZM1693.8 1379.7H2153.9V1396.7H1693.8ZM705.5 1396.7H722.6V1413.7H705.5ZM824.8 1396.7H961.1V1413.7H824.8ZM1080.4 1396.7H1114.5V1413.7H1080.4ZM1659.7 1396.7H2153.9V1413.7H1659.7ZM824.8 1413.7H961.1V1430.6H824.8ZM1080.4 1413.7H1114.5V1430.6H1080.4ZM1642.7 1413.7H2153.9V1430.6H1642.7ZM841.8 1430.6H978.1V1447.6H841.8ZM1080.4 1430.6H1114.5V1447.6H1080.4ZM1625.7 1430.6H2153.9V1447.6H1625.7ZM858.9 1447.6H1012.2V1464.6H858.9ZM1046.3 1447.6H1148.5V1464.6H1046.3ZM1608.6 1447.6H1676.8V1464.6H1608.6ZM1693.8 1447.6H2170.9V1464.6H1693.8ZM875.9 1464.6H1199.7V1481.6H875.9ZM1608.6 1464.6H1659.7V1481.6H1608.6ZM1693.8 1464.6H2170.9V1481.6H1693.8ZM893 1481.6H1216.7V1498.5H893ZM1591.6 1481.6H1881.3V1498.5H1591.6ZM1915.3 1481.6H2188V1498.5H1915.3ZM927 1498.5H1029.3V1515.5H927ZM1046.3 1498.5H1216.7V1515.5H1046.3ZM1574.5 1498.5H1744.9V1515.5H1574.5ZM1932.4 1498.5H2000.5V1515.5H1932.4ZM2034.6 1498.5H2205V1515.5H2034.6ZM927 1515.5H1216.7V1532.5H927ZM1540.5 1515.5H1727.9V1532.5H1540.5ZM1949.4 1515.5H1966.5V1532.5H1949.4ZM2068.7 1515.5H2205V1532.5H2068.7ZM944.1 1532.5H1012.2V1549.5H944.1ZM1029.3 1532.5H1216.7V1549.5H1029.3ZM1489.3 1532.5H1523.4V1549.5H1489.3ZM1557.5 1532.5H1727.9V1549.5H1557.5ZM2085.7 1532.5H2222V1549.5H2085.7ZM944.1 1549.5H995.2V1566.4H944.1ZM1080.4 1549.5H1250.8V1566.4H1080.4ZM1267.8 1549.5H1284.9V1566.4H1267.8ZM1472.3 1549.5H1506.4V1566.4H1472.3ZM1523.4 1549.5H1727.9V1566.4H1523.4ZM2102.8 1549.5H2239.1V1566.4H2102.8ZM944.1 1566.4H978.1V1583.4H944.1ZM1097.4 1566.4H1318.9V1583.4H1097.4ZM1370.1 1566.4H1455.3V1583.4H1370.1ZM1608.6 1566.4H1710.9V1583.4H1608.6ZM2102.8 1566.4H2239.1V1583.4H2102.8ZM1114.5 1583.4H1438.2V1600.4H1114.5ZM2102.8 1583.4H2256.1V1600.4H2102.8ZM1114.5 1600.4H1404.1V1617.3H1114.5ZM2102.8 1600.4H2256.1V1617.3H2102.8ZM1114.5 1617.3H1387.1V1634.3H1114.5ZM2102.8 1617.3H2256.1V1634.3H2102.8ZM1131.5 1634.3H1353V1651.3H1131.5ZM2119.8 1634.3H2273.2V1651.3H2119.8ZM1131.5 1651.3H1336V1668.3H1131.5ZM2136.8 1651.3H2273.2V1668.3H2136.8ZM1148.5 1668.3H1301.9V1685.2H1148.5ZM2136.8 1668.3H2273.2V1685.2H2136.8ZM1165.6 1685.2H1301.9V1702.2H1165.6ZM2153.9 1685.2H2290.2V1702.2H2153.9ZM1165.6 1702.2H1301.9V1719.2H1165.6ZM2170.9 1702.2H2290.2V1719.2H2170.9ZM1165.6 1719.2H1301.9V1736.2H1165.6ZM2188 1719.2H2290.2V1736.2H2188ZM1182.6 1736.2H1301.9V1753.1H1182.6ZM2205 1736.2H2273.2V1753.1H2205ZM1182.6 1753.1H1301.9V1770.1H1182.6ZM2222 1753.1H2273.2V1770.1H2222ZM1216.7 1770.1H1301.9V1787.1H1216.7ZM2170.9 1770.1H2188V1787.1H2170.9ZM2205 1770.1H2222V1787.1H2205ZM1267.8 1787.1H1301.9V1804.1H1267.8Z" fill="#a7d0e4"/>
<path d="M2102.8 819.6H2153.9V836.5H2102.8ZM279.5 836.5H313.6V853.5H279.5ZM1796.1 836.5H1813.1V853.5H1796.1ZM1915.3 836.5H1932.4V853.5H1915.3ZM2085.7 836.5H2222V853.5H2085.7ZM262.5 853.5H381.8V870.5H262.5ZM1762 853.5H1830.1V870.5H1762ZM1881.3 853.5H1966.5V870.5H1881.3ZM2017.6 853.5H2034.6V870.5H2017.6ZM2068.7 853.5H2119.8V870.5H2068.7ZM2153.9 853.5H2222V870.5H2153.9ZM245.4 870.5H415.8V887.5H245.4ZM1744.9 870.5H1949.4V887.5H1744.9ZM2000.5 870.5H2034.6V887.5H2000.5ZM2153.9 870.5H2222V887.5H2153.9ZM245.4 887.5H432.9V904.4H245.4ZM1744.9 887.5H1881.3V904.4H1744.9ZM1915.3 887.5H1932.4V904.4H1915.3ZM1983.5 887.5H2051.7V904.4H1983.5ZM2170.9 887.5H2205V904.4H2170.9ZM245.4 904.4H484V921.4H245.4ZM910 904.4H927V921.4H910ZM1744.9 904.4H1881.3V921.4H1744.9ZM1966.5 904.4H2051.7V921.4H1966.5ZM279.5 921.4H501V938.4H279.5ZM893 921.4H1029.3V938.4H893ZM1693.8 921.4H1881.3V938.4H1693.8ZM1983.5 921.4H2051.7V938.4H1983.5ZM296.6 938.4H398.8V955.3H296.6ZM415.8 938.4H501V955.3H415.8ZM893 938.4H1046.3V955.3H893ZM1336 938.4H1353V955.3H1336ZM1642.7 938.4H1864.2V955.3H1642.7ZM1983.5 938.4H2051.7V955.3H1983.5ZM296.6 955.3H381.8V972.3H296.6ZM398.8 955.3H501V972.3H398.8ZM893 955.3H1063.3V972.3H893ZM1284.9 955.3H1523.4V972.3H1284.9ZM1625.7 955.3H1881.3V972.3H1625.7ZM2017.6 955.3H2034.6V972.3H2017.6ZM296.6 972.3H501V989.3H296.6ZM603.3 972.3H654.4V989.3H603.3ZM893 972.3H1080.4V989.3H893ZM1284.9 972.3H1915.3V989.3H1284.9ZM296.6 989.3H501V1006.3H296.6ZM620.3 989.3H654.4V1006.3H620.3ZM893 989.3H1080.4V1006.3H893ZM1267.8 989.3H1915.3V1006.3H1267.8ZM2051.7 989.3H2068.7V1006.3H2051.7ZM211.4 1006.3H262.5V1023.2H211.4ZM279.5 1006.3H518.1V1023.2H279.5ZM893 1006.3H1080.4V1023.2H893ZM1199.7 1006.3H1932.4V1023.2H1199.7ZM2034.6 1006.3H2085.7V1023.2H2034.6ZM211.4 1023.2H398.8V1040.2H211.4ZM467 1023.2H535.1V1040.2H467ZM910 1023.2H1080.4V1040.2H910ZM1165.6 1023.2H1949.4V1040.2H1165.6ZM2051.7 1023.2H2102.8V1040.2H2051.7ZM177.3 1040.2H194.3V1057.2H177.3ZM211.4 1040.2H228.4V1057.2H211.4ZM245.4 1040.2H398.8V1057.2H245.4ZM467 1040.2H535.1V1057.2H467ZM910 1040.2H1063.3V1057.2H910ZM1148.5 1040.2H1949.4V1057.2H1148.5ZM2068.7 1040.2H2102.8V1057.2H2068.7ZM194.3 1057.2H398.8V1074.2H194.3ZM449.9 1057.2H535.1V1074.2H449.9ZM910 1057.2H1080.4V1074.2H910ZM1114.5 1057.2H1949.4V1074.2H1114.5ZM194.3 1074.2H432.9V1091.1H194.3ZM467 1074.2H518.1V1091.1H467ZM927 1074.2H1932.4V1091.1H927ZM143.2 1091.1H160.2V1108.1H143.2ZM194.3 1091.1H518.1V1108.1H194.3ZM927 1091.1H1932.4V1108.1H927ZM211.4 1108.1H484V1125.1H211.4ZM927 1108.1H1915.3V1125.1H927ZM228.4 1125.1H330.6V1142.1H228.4ZM364.7 1125.1H432.9V1142.1H364.7ZM927 1125.1H1114.5V1142.1H927ZM1182.6 1125.1H1898.3V1142.1H1182.6ZM245.4 1142.1H313.6V1159H245.4ZM467 1142.1H501V1159H467ZM927 1142.1H1097.4V1159H927ZM1216.7 1142.1H1762V1159H1216.7ZM1796.1 1142.1H1881.3V1159H1796.1ZM262.5 1159H313.6V1176H262.5ZM467 1159H501V1176H467ZM927 1159H1097.4V1176H927ZM1199.7 1159H1881.3V1176H1199.7ZM262.5 1176H296.6V1193H262.5ZM449.9 1176H501V1193H449.9ZM910 1176H1114.5V1193H910ZM1199.7 1176H1864.2V1193H1199.7ZM2136.8 1176H2153.9V1193H2136.8ZM262.5 1193H296.6V1210H262.5ZM432.9 1193H484V1210H432.9ZM927 1193H1131.5V1210H927ZM1165.6 1193H1847.2V1210H1165.6ZM262.5 1210H313.6V1226.9H262.5ZM432.9 1210H501V1226.9H432.9ZM927 1210H1847.2V1226.9H927ZM2239.1 1210H2256.1V1226.9H2239.1ZM467 1226.9H484V1243.9H467ZM927 1226.9H1830.1V1243.9H927ZM2136.8 1226.9H2153.9V1243.9H2136.8ZM944.1 1243.9H1796.1V1260.9H944.1ZM944.1 1260.9H1693.8V1277.9H944.1ZM1727.9 1260.9H1744.9V1277.9H1727.9ZM654.4 1277.9H688.5V1294.8H654.4ZM705.5 1277.9H739.6V1294.8H705.5ZM841.8 1277.9H858.9V1294.8H841.8ZM961.1 1277.9H1693.8V1294.8H961.1ZM654.4 1294.8H756.6V1311.8H654.4ZM841.8 1294.8H875.9V1311.8H841.8ZM978.1 1294.8H1693.8V1311.8H978.1ZM1898.3 1294.8H1966.5V1311.8H1898.3ZM1983.5 1294.8H2000.5V1311.8H1983.5ZM467 1311.8H484V1328.8H467ZM654.4 1311.8H756.6V1328.8H654.4ZM978.1 1311.8H1710.9V1328.8H978.1ZM1898.3 1311.8H1983.5V1328.8H1898.3ZM501 1328.8H535.1V1345.8H501ZM637.4 1328.8H756.6V1345.8H637.4ZM978.1 1328.8H1710.9V1345.8H978.1ZM1898.3 1328.8H1949.4V1345.8H1898.3ZM637.4 1345.8H756.6V1362.7H637.4ZM978.1 1345.8H1693.8V1362.7H978.1ZM637.4 1362.7H756.6V1379.7H637.4ZM961.1 1362.7H1097.4V1379.7H961.1ZM1114.5 1362.7H1693.8V1379.7H1114.5ZM620.3 1379.7H722.6V1396.7H620.3ZM961.1 1379.7H1063.3V1396.7H961.1ZM1097.4 1379.7H1693.8V1396.7H1097.4ZM961.1 1396.7H1080.4V1413.7H961.1ZM1114.5 1396.7H1659.7V1413.7H1114.5ZM961.1 1413.7H1080.4V1430.6H961.1ZM1114.5 1413.7H1642.7V1430.6H1114.5ZM978.1 1430.6H1080.4V1447.6H978.1ZM1114.5 1430.6H1625.7V1447.6H1114.5ZM1012.2 1447.6H1046.3V1464.6H1012.2ZM1148.5 1447.6H1608.6V1464.6H1148.5ZM1199.7 1464.6H1608.6V1481.6H1199.7ZM1216.7 1481.6H1591.6V1498.5H1216.7ZM1029.3 1498.5H1046.3V1515.5H1029.3ZM1216.7 1498.5H1574.5V1515.5H1216.7ZM1216.7 1515.5H1540.5V1532.5H1216.7ZM1216.7 1532.5H1489.3V1549.5H1216.7ZM1523.4 1532.5H1557.5V1549.5H1523.4ZM1250.8 1549.5H1267.8V1566.4H1250.8ZM1284.9 1549.5H1472.3V1566.4H1284.9ZM1318.9 1566.4H1370.1V1583.4H1318.9ZM1301.9 1668.3H1318.9V1685.2H1301.9Z" fill="#529dc8"/>
<path d="M228.4 191.5H245.4V208.5H228.4ZM313.6 191.5H364.7V208.5H313.6ZM228.4 208.5H262.5V225.5H228.4ZM313.6 208.5H398.8V225.5H313.6ZM228.4 225.5H296.6V242.4H228.4ZM313.6 225.5H467V242.4H313.6ZM228.4 242.4H535.1V259.4H228.4ZM228.4 259.4H296.6V276.4H228.4ZM313.6 259.4H586.2V276.4H313.6ZM228.4 276.4H279.5V293.4H228.4ZM296.6 276.4H671.4V293.4H296.6ZM2494.7 276.4H2511.7V293.4H2494.7ZM228.4 293.4H739.6V310.3H228.4ZM2460.6 293.4H2528.8V310.3H2460.6ZM211.4 310.3H330.6V327.3H211.4ZM364.7 310.3H807.8V327.3H364.7ZM2443.6 310.3H2528.8V327.3H2443.6ZM211.4 327.3H313.6V344.3H211.4ZM381.8 327.3H790.7V344.3H381.8ZM893 327.3H927V344.3H893ZM1404.1 327.3H1421.2V344.3H1404.1ZM2443.6 327.3H2545.8V344.3H2443.6ZM211.4 344.3H313.6V361.2H211.4ZM398.8 344.3H773.7V361.2H398.8ZM910 344.3H995.2V361.2H910ZM1404.1 344.3H1421.2V361.2H1404.1ZM2443.6 344.3H2545.8V361.2H2443.6ZM194.3 361.2H245.4V378.2H194.3ZM432.9 361.2H773.7V378.2H432.9ZM893 361.2H944.1V378.2H893ZM1301.9 361.2H1353V378.2H1301.9ZM1404.1 361.2H1421.2V378.2H1404.1ZM2443.6 361.2H2562.8V378.2H2443.6ZM194.3 378.2H211.4V395.2H194.3ZM449.9 378.2H790.7V395.2H449.9ZM875.9 378.2H893V395.2H875.9ZM910 378.2H961.1V395.2H910ZM1318.9 378.2H1421.2V395.2H1318.9ZM2443.6 378.2H2579.9V395.2H2443.6ZM177.3 395.2H211.4V412.2H177.3ZM467 395.2H807.8V412.2H467ZM893 395.2H944.1V412.2H893ZM1336 395.2H1370.1V412.2H1336ZM1438.2 395.2H1472.3V412.2H1438.2ZM2443.6 395.2H2596.9V412.2H2443.6ZM177.3 412.2H194.3V429.1H177.3ZM449.9 412.2H944.1V429.1H449.9ZM1659.7 412.2H1676.8V429.1H1659.7ZM2426.5 412.2H2596.9V429.1H2426.5ZM432.9 429.1H944.1V446.1H432.9ZM2426.5 429.1H2596.9V446.1H2426.5ZM449.9 446.1H927V463.1H449.9ZM2409.5 446.1H2579.9V463.1H2409.5ZM467 463.1H858.9V480.1H467ZM893 463.1H910V480.1H893ZM2409.5 463.1H2562.8V480.1H2409.5ZM484 480.1H501V497H484ZM569.2 480.1H586.2V497H569.2ZM637.4 480.1H858.9V497H637.4ZM1046.3 480.1H1080.4V497H1046.3ZM1796.1 480.1H1830.1V497H1796.1ZM2307.2 480.1H2341.3V497H2307.2ZM2426.5 480.1H2511.7V497H2426.5ZM126.2 497H143.2V514H126.2ZM654.4 497H858.9V514H654.4ZM1029.3 497H1097.4V514H1029.3ZM1762 497H1864.2V514H1762ZM2273.2 497H2324.3V514H2273.2ZM739.6 514H858.9V531H739.6ZM1029.3 514H1097.4V531H1029.3ZM1779 514H1847.2V531H1779ZM2256.1 514H2307.2V531H2256.1ZM296.6 531H313.6V548H296.6ZM1029.3 531H1097.4V548H1029.3ZM1455.3 531H1489.3V548H1455.3ZM228.4 548H347.7V564.9H228.4ZM1029.3 548H1080.4V564.9H1029.3ZM1455.3 548H1506.4V564.9H1455.3ZM1847.2 548H1864.2V564.9H1847.2ZM211.4 564.9H313.6V581.9H211.4ZM1029.3 564.9H1080.4V581.9H1029.3ZM1455.3 564.9H1523.4V581.9H1455.3ZM1898.3 564.9H1915.3V581.9H1898.3ZM194.3 581.9H296.6V598.9H194.3ZM1012.2 581.9H1080.4V598.9H1012.2ZM1455.3 581.9H1523.4V598.9H1455.3ZM211.4 598.9H279.5V615.9H211.4ZM1012.2 598.9H1080.4V615.9H1012.2ZM1455.3 598.9H1506.4V615.9H1455.3ZM211.4 615.9H262.5V632.8H211.4ZM1012.2 615.9H1097.4V632.8H1012.2ZM1012.2 632.8H1097.4V649.8H1012.2ZM2494.7 632.8H2511.7V649.8H2494.7ZM1012.2 649.8H1097.4V666.8H1012.2ZM1012.2 666.8H1080.4V683.8H1012.2ZM1012.2 683.8H1046.3V700.7H1012.2ZM1710.9 683.8H1744.9V700.7H1710.9ZM1710.9 700.7H1727.9V717.7H1710.9ZM1676.8 1447.6H1693.8V1464.6H1676.8ZM1659.7 1464.6H1693.8V1481.6H1659.7ZM893 1498.5H927V1515.5H893ZM893 1515.5H927V1532.5H893ZM910 1532.5H944.1V1549.5H910ZM927 1549.5H944.1V1566.4H927ZM1710.9 1566.4H1762V1583.4H1710.9ZM1727.9 1583.4H1744.9V1600.4H1727.9ZM2136.8 1770.1H2153.9V1787.1H2136.8Z" fill="#e1edf3"/>
</g>
<path d="M251.3 346.4 256.9 351.4 257.9 364.7 256.2 381.3 266.2 388 279.5 393.6 292.9 391.3 307.8 395.6 319.5 404.6 332.8 406.9 357.8 410.3 372.7 408.6 392.7 408.9 404.3 412.3 414.3 410.3 432.6 416.3 465.9 425.6 498.2 435.2M540.8 259.9 532.5 289.8 522.5 326.4 512.5 363 504.2 393 498.5 411.3 500.2 426.2 499.9 427.4M498.2 435.2 504.2 446.2 510.8 455.5 509.2 464.5 499.2 477.8 489.2 491.1 480.9 502.8 467.6 514.4 460.9 522.8 462.6 532.7 469.9 540.1 464.2 552.7 458.6 562.7 449.3 599.3 439.3 635.9 431 665.9M582.4 269.8 575.7 289.8 569.1 313.1 564.7 328.1 569.7 343.1 572.4 363 580.7 376.3 587.4 391.3 595.7 409.6 605.7 419.6 614 425.6 607.3 442.9 600.7 459.5 599 469.5 590.7 481.2 595.7 492.1 605.7 489.5 614 482.8 620.7 491.1 621.7 506.1 627.3 522.8 625.6 536.1 637.3 549.4 642.3 571 652.3 567.7 660.6 571 670.6 567.7 692.2 572.7 702.2 576 707.2 567.7 715.5 566 720.5 577.7M724.5 566.6 728.8 554.4 820 567.7M720.5 577.7 705.5 665.9M119.1 568.4 166.4 585.3 233 609.3 297.8 630.3 366.1 649.2 431 665.9M296 638.1 289.5 665.9M634 181.6 644 186.6 648.9 201.6 648.9 219.9 645.6 236.6 640.6 248.2 644 258.2 648.9 269.8 655.6 278.2 657.3 287.1M843.1 180 817.1 321.4M1163.6 180 1160.3 365.7M1408.2 180 1408.8 351.4M1052.8 356.4 1049.4 403 1044.4 452.9 1039.4 496.1 1036.1 539.4 1029.5 597.6M1029.5 597.6 1019.5 665.9M819.8 568.9 833.1 571 933 586 1021.6 596.6M1043.9 541.8 1132.6 549.4 1232.5 556 1350.6 558.7M1327.3 373.7 1329 403 1329.6 426.2 1337.3 452.9 1340.6 479.5 1341.6 516.1 1350.6 539.4 1350.6 550.7M1349.1 566.7 1348.9 567.7 1337.3 577.7 1342.3 589.3 1353.9 597.6 1353.9 665.9M2009 185 2012.3 203.3 2019 236.6 2025.6 276.5 2032.3 309.8 2039 343.1 2045.6 376.3 2048.9 399.6 2057.3 419.6 2072.2 436.2 2090.5 456.2 2102.2 460.5 2148.8 461.9 2162.1 469.5 2175.4 476.2 2182.1 471.2 2198.7 487.8 2208.7 489.5 2220 486.2M1530.6 513 1530 516.4 1530 543 1528.3 551.3 1513.3 559.6 1506.7 576.3 1515 592.9 1511.6 622.9 1515 634.5 1533.3 644.5 1549.9 652.8 1559.9 662.8 1578.2 674.4 1581.5 696.1 1584.9 709.4 1589.9 716 1588.2 736 1593.2 746 1609.8 756 1614.8 762.6M1591.5 513 1609.8 516.4 1623.1 529.7 1646.4 534.7 1669.7 541.3 1689.7 542.3 1706.3 546.3 1721.3 559.6 1723 574.6 1733 592.9M1615.7 761.9 1742.9 753.3M1500 707.1 1575.3 704M1621.7 769.5 1624.8 772.6 1636.4 789.3 1633.1 805.9 1626.5 819.2 1616.5 826.9M1761.2 800.9 1762.9 826.9M1792.9 791.6 1882.7 781.9 1947.6 773.3M1883.6 789.9 1887.7 826.9M2071.7 737.7 2087.4 826.9M2104 712.7 2104 726 2109 727.7 2198.9 707.7 2298.7 686.1 2312 692.7 2320 701.1M2545.9 223.2 2532.6 236.6 2512.7 238.2 2486 251.5 2487.7 266.5 2491 279.8 2477.7 291.5M2220.6 488.3 2226.5 487.8 2243.1 477.8 2263.1 466.2 2273.1 462.9 2286.4 464.5 2287 481.2M2339.6 484.5 2342.9 499.5 2349.6 516.1 2352.9 536.1 2359.6 559.4 2362.9 567.7 2369.6 569.4 2372.9 589.3 2381.2 614.3M2412.8 463.5 2416.2 479.5 2421.1 487.8 2414.5 502.8 2406.2 509.4 2407.8 529.4 2404.5 556 2407.8 579.3 2409.5 602.6 2411.2 606M2427.8 442.9 2436.1 462.9 2446.1 489.5 2456.1 516.1 2466.1 546.1 2476.1 556M2381.2 614.3 2403.5 608.6M2408.7 607.2 2411.2 606.6 2464.4 593.3 2476.1 581 2482.7 577.7M2381.2 614.3 2381.2 635.9 2382.9 659.2 2382.9 666.9M2390.8 657.4 2412.8 652.5 2452.8 639.9 2474.4 634.2 2481 644.2M2458.2 646.7 2464.4 666.9M430.2 668.9 559.1 703.2 690.5 730.5M690.5 730.5 705.3 666.1M690.5 730.5 682.2 791.4 820 815.6M771 815.1 730.5 1047.6 722.2 1096.9M287.1 665.3 244.6 806.3 422.6 1096.9M557.5 711 499.2 1002.7 482.5 1042.6 475.9 1052.6 467.6 1056.6 459.3 1045.9 447.6 1044.3 441.9 1052.6 439.3 1072.6 437.6 1096.9M507.1 1004.2 722.6 1046.1M738.4 1048.9 820 1062.6M820 815.5 1001.2 839.6 1094.4 847.9M1021.1 666.1 1014.5 718.1 1002.1 831.6M1022.5 718.7 1262.4 736.4 1277.4 746.4 1285.7 748.1 1295.7 744.8 1312.3 745.4 1325.6 753.1 1339 759.7 1348.9 768.1M1353.3 665.9 1352.9 708.2M1348.9 708.8 1500 706.8M1348.9 708.8 1347.3 723.1 1352.9 733.1 1345.6 753.1 1346.1 755.2M1348.9 768.1 1357.3 781.4 1360.6 794.7 1367.2 806.3 1368.9 826.3 1377.2 836.3 1378.9 852.9 1378.9 876.2 1385.6 885.5 1390.5 902.8 1398.9 909.5 1402.2 922.1 1415.5 929.5 1423.8 932.8 1415.5 946.1 1418.8 959.4 1427.2 967.7 1437.1 974.4 1438.8 1096.9M1393.9 885.3 1520 882.2M1094.4 847.9 1090 909.5M1098 910 1232.5 917.8 1393.9 922M1090 909.5 1075.4 1091.9M820.1 1061.7 899.7 1074.2 1026.1 1087.5 1067.4 1091.2M1083.4 1092.3 1165.9 1096.9M1614.5 824.3 1606.3 828 1599 834.6 1603 847.9 1599.7 866.2 1591.4 879.5 1584.7 889.5 1582.4 909.5 1586.4 927.8 1603 942.8 1616.3 956.1 1624.6 971.1 1629.6 981 1639.6 977.7 1652.9 986 1647.9 1002.7 1642.9 1019.3 1652.9 1031 1669.6 1042.6 1684.5 1054.3 1689.5 1072.6 1692.9 1085.9 1701.2 1092.5 1709.5 1096.9M1520 881.2 1569.7 879.5 1577.4 886.3M1762 827 1762.7 833 1766.1 866.2 1769.4 899.5 1772.7 932.8 1767.7 952.8 1777.7 974.4 1771.1 996 1757.8 1011 1756.1 1032.6 1758.8 1040.9M1758.8 1040.9 1752.8 1060.9 1739.4 1072.6 1741.1 1084.2 1719.5 1080.9 1709.5 1085.9 1708.2 1087.2M1765.9 1036.8 1776.1 1031 1786 1027.6 1801 1032.6 1812.7 1023.3 1824.3 1027.6 1832.6 1011 1839.3 1007.7 1849.3 1016.7 1857.6 1014.3 1864.2 997.7 1875.9 982.7 1879.2 968.7 1889.2 969.4 1905.8 961.1 1900.9 946.1 1902.5 941.1 1919.2 940.1 1932.5 952.8 1945.8 956.8 1959.1 961.1 1975.7 961.1 1995.7 952.8 2009 964.4 2015.7 969.4 2025.6 966.1 2030.6 942.8 2035.6 929.5 2044 927.8 2048.9 912.8 2062.3 901.2 2078.9 882.9 2085.6 852.9 2084 827.5M1888.1 826.9 1901.1 933.2M2093.6 853.5 2097.2 872.9M2105 871.3 2147.1 862.9 2220 846.3M2148.3 870.8 2151.4 891.2 2162.1 882.9 2178.7 866.2 2198.7 864.6 2203.7 876.2 2198.7 892.9 2180.4 912.8 2172.1 936.1 2153.8 932.8 2148.8 952.8 2140.5 976.1 2133.8 992.7 2130.5 1004.3 2108.8 1016 2092.2 1026.6 2085.6 1025.3 2073.9 1032.6 2060.6 1029.3 2048.9 1016 2032.3 1002.7 2015.7 984.4 2015.7 977.4M1872.6 1096.9 1982.4 1084.2 2075.6 1070.9 2220 1044.3M1996.2 1074.1 2015.7 1057.6 2045.6 1024.3M2318.6 702.5 2326.3 711.5 2337.9 714.8 2379.5 726.5M2335.4 722.4 2333 729.8 2326.3 743.1 2329.6 753.1 2328 763.1 2339.6 773.1 2356.2 788 2347.9 796.3M2220.2 847 2316.3 826.3 2326.3 814.7 2333 813M2317.9 834.1 2329.6 866.2 2337.9 897.8 2366.2 892.9M2208.4 865.1 2223.1 856.2 2231.5 869.6 2229.2 878.6M2229.2 878.6 2228.1 882.9 2210.9 872.3M2210.4 870.8 2226.5 877.9 2229.2 878.6M2229.2 878.6 2246.4 882.9 2273.1 887.9M2220.1 1045 2233.1 1042.6 2352.9 1016M2383 666.9 2392.9 706.5 2391.2 714.8M2480 644.9 2482.7 649.9M2463.2 667.3 2466.1 676.5M423.7 1096.2 432.6 1109.9M432.6 1109.9 431 1123.2 437.6 1143.1 447.6 1156.5 434.3 1166.4 424.3 1178.1 417.7 1196.4 404.3 1211.4 402.7 1223 411 1233 407.7 1244.7 401 1249.6 392.7 1249.6M722.3 1096.9 672.2 1394.4M1165.9 1097.8 1232.5 1101.6 1438.8 1105.9M1025.4 1097.2 1023.5 1119.2M1031.5 1119.7 1170.9 1129.2 1165.2 1248 1179.2 1259.6 1192.5 1261.3 1199.2 1258 1205.8 1263 1205.8 1272.3 1225.8 1276.3 1239.1 1277.9 1245.8 1282.3 1262.4 1279.6 1262.4 1286.2 1272.4 1296.2 1284.1 1289.6 1295.7 1296.2 1307.3 1299.6 1312.3 1306.2 1319 1293.6 1329 1297.9 1337.3 1296.2 1352.3 1307.9 1365.6 1298.9 1382.2 1297.9 1390.5 1294.6 1400.5 1297.9 1410.5 1292.9 1427.2 1304.6 1440.5 1310.2 1450.4 1312.9 1458.8 1316.2 1470.4 1316.9 1471.4 1351.1 1472.1 1414.4 1482.1 1424.4 1485.4 1442.7 1495.4 1456 1502 1472.6 1497 1492.6 1492 1509.2 1492.7 1526.9M1438.8 1105.9 1439.5 1136.5 1448.8 1203.1 1448.8 1304.2M1447.5 1136.2 1520 1133.8M1479.4 1350.8 1520 1349.5M1023.5 1119.2 992.9 1396.1 804.8 1372.8 806.5 1387.8M1520 1133 1656.2 1127.2 1664.6 1133.2 1657.9 1144.8 1651.3 1158.1 1682.9 1156.5M1520 1349 1621.3 1344.5M1709.5 1097.1 1709.5 1109.9 1702.8 1119.9 1689.5 1124.8 1686.2 1139.8 1683 1157.7M1679.6 1164.7 1674.6 1174.8 1667.9 1193.1 1666.2 1211.4 1659.6 1221.4 1647.9 1236.3 1646.3 1253 1636.3 1263 1629.6 1276.3 1626.3 1289.6 1618 1302.9 1621.3 1319.5 1623.6 1332.8 1622.3 1346.2 1624.6 1362.8 1626.3 1376.1 1636.3 1386.1 1629.6 1399.4 1621.3 1412.7 1613 1424.4 1608 1442.7 1604.7 1459.3 1601.3 1470.9M1609.8 1470.4 1701.2 1465.3 1704.5 1475.9 1701.2 1490.9 1711.2 1505.9 1716.2 1514.2M1710.5 1122.8 1759.4 1118.2 1764.4 1107.2 1872.7 1098.2M1670.7 1219.1 1769.4 1211.4 1895.9 1196.4 2022.3 1179.8M1769.7 1219.4 1771.1 1263 1769.4 1329.5 1767.7 1406.1 1774.4 1456 1781 1495.9M1897.7 1204.2 1912.5 1256.3 1932.5 1319.5 1949.1 1349.5 1952.4 1361.1 1945.8 1376.1 1945.8 1392.7 1952.4 1406.1 1952.4 1426 1959.1 1439.3 1969.1 1456M1831 1492.6 1832.6 1475.9 1822.6 1466 1821 1455.3 1951.4 1441.8M1969.1 1456 2112.2 1445.3 2115.5 1456 2122.2 1452.6 2120.5 1429.4 2132.1 1426.7 2147.1 1427.7M2017.5 1188.5 2012.3 1198.1 2035.6 1211.4 2057.3 1234.7 2078.9 1251.3 2097.2 1264.6 2108.8 1279.6 2122.2 1287.9 2132.1 1311.2 2145.5 1319.5 2153.8 1336.2 2162.1 1341.2M2022.3 1179.8 2057.3 1161.5 2122.2 1153.1 2137.1 1159.8 2142.1 1169.8 2197 1162.5 2220 1176.4M2076.7 1078.8 2077.2 1083.2 2060.6 1101.6 2039 1114.9 2022.3 1126.5 2002.4 1143.1 1982.4 1151.5 1965.7 1171.4 1963.9 1179.4M2219.4 1177.4 2261.4 1204.7M1492.4 1526.9 1486.5 1543.2 1481.5 1551.5M1530.6 513 1546.9 496.7 1562.9 482.1 1577.9 465.8 1592.2 451.1 1613.5 439.8 1626.5 431.5 1646.1 418.5 1651.4 401.6 1663.1 391.6 1676.4 373.3 1686.4 363.3 1699.7 364.9 1713 368.3 1733 367.3 1759.6 367.3 1769.6 383.2 1777.9 398.2 1789.5 409.9 1809.5 409.9 1831.1 409.2 1826.1 429.8 1844.4 443.1 1839.4 464.8 1857.8 469.8 1856.1 481.4 1846.1 489.7 1836.1 494.7 1832.8 486.4 1819.5 482.4 1799.5 486.4 1782.9 494.7 1772.9 501.4 1762.9 506.4 1746.3 507 1733 501.4 1719.6 486.4 1699.7 483.8 1691.4 493.1 1686.4 478.1 1699.7 463.1 1716.3 452.5 1699.7 453.8 1679.7 469.8 1677 473.8 1664.1 483.8 1654.1 491.7 1634.4 498.1 1624.8 506.4 1610.2 516 1595.5 511 1585.9 513 1588.9 503.1 1595.5 501.4 1590.9 491.7 1580.9 496.7 1572.9 499.7 1562.9 506.4 1553.2 509.7 1540.3 509.7ZM1812.8 529.7 1792.9 538 1772.9 549.6 1766.2 576.3 1756.2 596.2 1747.9 616.2 1744.6 636.2 1739.6 662.8 1736.9 689.4 1734.6 712.7 1739.6 729.4 1742.3 752.6 1746.3 772.6 1756.2 789.3 1762.9 800.9 1776.2 799.2 1792.9 790.9 1801.2 772.6 1809.5 752.6 1811.2 726 1801.2 699.4 1792.9 676.1 1791.2 649.5 1796.2 622.9 1801.2 606.2 1799.5 586.2 1819.5 582.9 1829.5 576.3 1836.1 563 1844.4 546.3 1846.1 533 1829.5 526.3ZM1772.9 548 1756.2 546.3 1747.9 569.6 1733 596.2 1722.3 622.9 1733 609.5 1746.3 589.6 1762.9 571.3ZM1847.8 531.3 1866.1 503.1 1882.7 506.4 1899.4 503.1 1942.6 501.4 1979.2 501.4 2019.2 503.1 2032.5 519.7 2049.1 529.7 2062.4 556.3 2075.7 559.6 2062.4 582.9 2045.8 581.3 2025.8 576.3 2009.2 563 1992.5 551.3 1984.2 551.3 2005.8 569.6 2009.2 586.2 1999.2 602.9 1997.5 626.2 2002.5 656.1 1995.9 672.8 1984.2 684.4 1975.9 682.8 1965.9 666.1 1960.9 649.5 1949.3 632.8 1936 636.2 1926 649.5 1914.3 662.8 1904.3 657.8 1904.3 649.5 1916 639.5 1917.7 619.5 1924.3 612.9 1921 592.9 1914.3 576.3 1912.7 561.3 1899.4 556.3 1876.1 546.3 1859.4 538ZM1950.9 759.3 1952.6 739.3 1959.3 732.7 1979.2 734.3 1989.2 742.7 2009.2 727.7 2025.8 706.1 2045.8 700.1 2072.4 696.1 2089 687.8 2109 676.1 2132.3 669.4 2137.3 672.8 2122.3 687.8 2109 706.1 2092.4 719.4 2072.4 737.7 2049.1 752.6 2032.5 769.3 2019.2 775.9 1999.2 784.3 1985.9 787.6 1972.6 785.9 1965.9 789.3 1959.3 775.9 1945.9 762.6ZM2090.7 649.5 2095.7 632.8 2115.7 612.9 2148.9 599.6 2175.6 589.6 2198.9 576.3 2222.2 563 2238.8 559.6 2240.5 576.3 2238.8 602.9 2222.2 622.9 2185.6 632.8 2152.3 631.2 2122.3 636.2 2105.7 654.5 2095.7 654.5ZM1964.2 716 1975.9 712.7 1982.5 724.4 1979.2 732.7 1965.9 732.7 1960.9 724.4ZM1906 521.4 1932.6 516.4 1965.9 511.4 1979.2 516.4 1979.2 533 1965.9 531.3 1942.6 526.3 1919.3 526.3Z" fill="none" stroke="#000" stroke-width="4.17" stroke-dasharray="4.17 6.88" stroke-linejoin="round"/>
<path d="M237.9 191.6 257.9 209.9 279.5 221.6 294.5 221.6 301.2 203.3 312.8 185 321.1 190M899.3 1527 899.7 1528.2 913 1543.2 926.3 1556.5 939.6 1563.2 952.9 1573.1 966.2 1582.5 976.2 1579.8 986.2 1566.5 992.9 1551.5 999.5 1541.5 1011.2 1538.2 1024.5 1531.6 1036.1 1537.2 1052.8 1539.9 1069.4 1541.5 1077.7 1551.5 1089.4 1561.5 1099.4 1574.8 1109.3 1584.8 1112.7 1599.8 1119.3 1613.1 1126 1629.7 1129.3 1641.4 1139.3 1653 1147.6 1666.3 1157.6 1676.3 1167.6 1686.3 1169.2 1704.6 1170.9 1719.6 1179.2 1731.2 1184.2 1752.9 1190.9 1762.8 1202.5 1764.5 1214.2 1772.8 1225.8 1776.2 1239.1 1784.5 1262.4 1788.8 1274.1 1792.8 1282.4 1798.8 1291.7 1796.1 1299 1789.5M269.6 1229.7 392.7 1249.6M1639.8 424.8 1656.4 413.2 1673.1 404.9 1686.4 403.2 1733 424.8 1782.9 446.5 1832.8 468.1 1841.1 476.4 1846.1 489.7 1866.1 496.4 1872.7 503.1 1876.1 509.7 1882.7 516.4 1899.4 521.4 1916 529.7 1945.9 549.6 1955.9 579.6 1965.9 612.9 1975.9 639.5 1982.5 662.8 1979.2 682.8 1977.6 696.1 1975.9 712.7 1969.2 716 1962.6 729.4 1954.3 737.7 1952.6 759.3 1972.6 769.3 1989.2 766 2019.2 742.7 2049.1 722.7 2085.7 706.1 2119 682.8 2134 671.1 2122.3 662.8 2119 642.8 2132.3 629.5 2165.6 619.5 2212.2 606.2 2232.1 582.9 2237.1 569.6 2242.1 549.6 2255.4 526.3 2268.8 511.4 2282.1 501.4 2283 501.2" fill="none" stroke="#000" stroke-width="4.17" stroke-dasharray="4.17 6.88" stroke-linejoin="round"/>
<path d="M321.1 190 366.1 204.9 416 221.6 465.9 236.6 540.8 259.9 582.4 269.8 657.3 287.1 738.8 304.8 820 321.4M819.9 322 933 340.4 1052.8 356.4 1159.3 365.7 1265.7 371.3 1325.6 373.7 1408.8 374 1409.8 351.4 1420.5 353 1422.2 369.7 1428.8 388 1452.1 393.6 1468.8 401.3 1488.7 394.6 1505.4 399.6 1520 407.9M2283 501.1 2333 486.2 2376.2 474.5 2412.8 463.5 2414.5 446.2 2429.5 442.9 2437.8 432.9 2439.4 419.6 2447.8 399.6 2444.4 379.7 2446.1 356.4 2444.4 343.1 2452.8 316.4 2461.1 291.5 2469.4 291.5 2477.7 301.5 2499.4 284.8 2522.6 293.1 2532.6 319.8 2542.6 343.1 2550.9 366.3 2564.2 369.7 2569.2 376.3 2575.9 393 2589.2 393.6M700 1399.4 715 1402.1 721.6 1376.1 804.8 1387.8 813.1 1389.4 824.8 1409.4 843.1 1426 859.7 1446 879.7 1464.3 888 1474.3 893 1495.9 896.3 1515.9 899.7 1526.9M387.2 1256.8 385 1259.6 567.4 1376.1 672.2 1394.4 700 1399.2M1517.4 412.5 1520 414.9 1533.3 409.9 1559.9 426.5 1579.9 417.2 1589.9 421.5 1613.1 419.2 1623.1 426.5 1639.8 424.8" fill="none" stroke="#000" stroke-width="4.17" stroke-dasharray="4.17 1.36" stroke-linejoin="round"/>
<path d="M2279.7 1751.2 2274.7 1766.2 2268.1 1777.8 2261.4 1782.8M2254.7 1787.8 2251.4 1791.1M2246.4 1796.1 2236.4 1801.1M2224.8 1806.1 2218.1 1799.4M2213.1 1806.1 2209.8 1812.8M2203.2 1815.4 2198.2 1818.8M2206.5 1541.5 2216.5 1559.8 2233.1 1586.5 2249.8 1613.1 2263.1 1634.7M2347.9 1904.3 2366.2 1910.9M2481 1937.6 2496 1939.9" fill="none" stroke="#000" stroke-width="7.5" stroke-linejoin="round" stroke-linecap="round"/>
<path d="M2476.1 1693 2487.7 1697.9 2502.7 1701.3 2519.3 1711.3 2522.6 1726.2 2524.3 1742.9 2512.7 1734.6 2517.7 1729.6 2516 1716.2 2501 1706.3 2486 1702.9 2476.1 1702.9ZM2547.6 1732.9 2554.3 1734.6 2569.2 1751.2 2582.5 1761.2 2569.2 1765.5 2572.6 1759.5 2559.3 1747.9 2547.6 1736.2ZM2545.9 1801.1 2559.3 1804.4 2572.6 1811.1 2565.9 1812.8 2547.6 1806.1ZM2587.5 1791.1 2599.2 1802.8 2609.2 1817.8 2629.1 1826.1 2629.1 1836.1 2615.8 1824.4 2600.9 1821.1 2605.8 1814.4 2595.9 1802.8ZM2659.1 1827.7 2672.4 1831.1 2687.4 1827.7 2694 1839.4 2689 1852.7 2679.1 1864.3 2672.4 1870 2680.7 1854.4 2687.4 1839.4 2679.1 1836.1 2665.7 1837.7ZM2734 1832.7 2752.3 1832.1 2762.3 1836.1 2748.9 1837.7 2734 1839.4ZM2792.2 1857.7 2805.5 1857.7 2798.9 1864.3ZM2808.8 1844.4 2823.8 1849.4 2823.8 1852.7 2812.2 1849.4ZM2625.8 1751.2 2632.5 1750.2 2633.5 1757.8 2627.5 1762.2ZM2437.8 1736.2 2447.8 1731.2 2456.1 1732.9 2446.1 1739.5ZM2755.6 1891 2760.6 1886 2767.2 1890 2760.6 1896Z" fill="#000" stroke="#000" stroke-width="4.17" stroke-linejoin="round"/>
<path d="M317.6 181 322.5 187.1 321.9 194.4 322.5 201.7 327.4 204.1 326.2 211.4 323.7 221.2 317.6 219.9 315.2 222.4 320.1 224.8 323.1 232.1 322.5 237 317.6 239.4 321.3 243.1 324.3 251.6 320.1 256.5 314 261.4 311.5 267.4 310.9 273.5 307.9 279.6 306.7 288.1 301.8 291.8 296.9 293 289.6 297.9 286 299.7 281.1 295.5 273.8 292.4 277.4 288.1 283.5 283.3 288.4 284.5 292.1 286.9 296.9 279.6 299.4 271.1 301.8 266.2 306.7 262.6 306.7 255.3 296.9 257.7 289.6 263.8 281.1 268.7 275 274.8 273.8 278.4 279.9 279.6 286 277.8 281.1 276 289.6 269.9 296.9 263.8 303 260.1 305.5 254 303 248 303 240.6 296.9 241.3 292.1 238.2 289.6 232.1 283.5 233.3 272.6 228.5 260.4 222.4 253.1 216.3 250.6 211.4 237.2 198.6 233.6 205.3 228.7 218.7 228.1 227.2 233.6 234.6 232.4 249.2 229.9 262.6 229.9 273.5 226.9 280.8 225.7 286.9 232.4 283.3 239.7 290.6 226.3 292.4 224.5 299.1 231.2 306.4 227.5 313.7 223.8 321 222.6 310.1 221.4 316.2 214.1 325.9 215.3 332 213 349.7 208 366.3 203 373 193 396.3 183 416.3 176.4 432.9 168.1 449.5 156.4 472.8 146.4 486.2 141.4 489.5 133.1 502.8 122.5 516.1 123.1 529.4 116.5 546.1 114.8 559.4 119.1 568.4 113.1 581 114.8 596M113.1 600 106.5 613.3 99.8 628.3 89.9 641.6 79.9 649.9 75.9 664.9 81.5 679.9 85.9 693.2 87.5 703.2 85.9 716.5 79.9 726.5 79.2 739.8 74.9 753.1 79.9 766.4 84.9 779.7 91.5 789.7 92.5 799.7 96.5 808 88.2 818 98.2 828 108.2 837.9 102.5 852.9 101.5 862.9 99.8 871.2 105.8 887.9 118.1 896.2 119.8 904.5 114.8 912.8 108.2 917.8 105.8 931.1 111.5 942.8 116.5 959.4 120.5 972.7 121.5 979.4 128.1 989.4 131.5 997.7 135.8 1001 133.1 1012.7 141.4 1022.6 137.1 1032.6 135.8 1042.6 131.5 1054.3 136.4 1062.6 149.8 1065.9 159.7 1070.9 169.7 1077.6 179.7 1079.2 188 1087.5 194.7 1096.9M193 1094.9 193 1101.6 201.3 1109.9 211.3 1116.5 221.3 1118.2 227 1121.5 229 1129.8 225.6 1138.2 231.3 1141.5 233 1138.2 241.3 1143.1 249.6 1154.8 256.2 1163.1 262.9 1173.1 267.9 1184.7 270.2 1196.4 268.9 1206.4 266.2 1218 271.2 1221.4 269.6 1229.7 268.9 1239.7 274.6 1251.3 275.6 1264.6 284.5 1276.3 282.2 1282.9 276.2 1282.9 276.9 1292.9 282.9 1306.2 288.9 1321.2 286.2 1332.8 296.2 1347.8 293.5 1369.4 301.2 1379.4 299.5 1392.7 295.5 1401.1 299.5 1404.4 300.2 1416 319.5 1439.3 324.5 1444.3 332.8 1450 346.1 1472.6 361.1 1500.9 366.1 1509.2 367.7 1519.2 364.4 1526.9M364.4 1526.9 361.1 1533.2 352.8 1544.9 344.4 1549.9 336.1 1550.5 329.5 1551.5 319.5 1548.2 304.5 1542.5 303.5 1548.2 311.2 1556.5 319.5 1568.2 327.8 1576.5 327.8 1588.1 334.5 1594.8 344.4 1599.8 349.4 1608.1 357.8 1612.4 364.4 1628.1 367.7 1631.4 377.7 1628.1 387.7 1630.4 396 1622.4 394.4 1636.4 397.7 1646.4 407.7 1659.7 416 1669.7 429.3 1678 434.3 1691.3 437.6 1706.3 436.6 1719.6 438.6 1726.2 432.6 1742.9 427.6 1756.2 427.6 1766.2 440.9 1782.8 439.3 1789.5 447.6 1790.1 454.3 1801.1 464.2 1812.8 479.2 1826.1 487.5 1839.4 492.5 1846 497.5 1854.4 512.5 1866 517.5 1879.3 520.2 1886 521.8 1905.9 525.1 1914.3 530.8 1915.9 539.1 1913.3 549.1 1906.6 559.1 1902.6 565.7 1889.3 567.4 1884.3 562.4 1875.3 553.1 1870 552.4 1859.4 545.8 1844.4 537.5 1831.1 525.8 1818.8 523.5 1826.1 519.2 1832.7 515.8 1829.4 509.2 1826.1 504.2 1817.8 501.9 1799.4 507.5 1787.8 507.5 1777.8 499.2 1761.2 495.2 1736.2 489.2 1732.2 484.2 1716.2 485.9 1697.9 484.2 1681.3 482.5 1669.7 480.9 1656.3 470.9 1643 465.9 1644.7 459.3 1633.1 460.9 1628.1 452.6 1619.7 449.3 1606.4 449.3 1596.4 439.3 1586.5 431 1573.1 432 1556.5 431 1538.2 432 1533.2 422 1526.6 419.3 1508.3 412.7 1504.9 411 1496.6 404.3 1495.9 404.3 1485 399.4 1473.3 392.7 1460M371.1 1295.6 377.7 1311.2 369.4 1322.9 362.7 1341.2 366.1 1354.5 366.1 1376.1 364.4 1389.4 361.1 1402.7 364.4 1416 370.1 1427.7 379.4 1437.7 386 1449.3 394.4 1461M371.1 1295.6 387.7 1307.9 404.3 1326.2 414.3 1329.5 419.3 1324.5 432 1336.2 432 1346.2 442.6 1351.1 460.3 1361.1 458.6 1369.4 454.3 1369.4 450.9 1387.8 457.6 1409.4 460.9 1427.7 459.9 1441 465.9 1457.6 471.9 1472.6 469.9 1484.3 478.6 1490.9 479.2 1505.9 487.5 1519.2 490.9 1526.9M490.9 1526.9 495.9 1543.2 507.5 1552.5 515.8 1574.8 522.5 1582.5 532.5 1588.1 539.1 1587.1 553.1 1593.8 547.4 1601.4 545.8 1616.4 550.8 1633.1 559.1 1641.4 577.4 1650.4 578.4 1663 582.4 1675.6 599 1678 609 1691.3 609.7 1702.9 614 1707.9 605.7 1708.9 594 1721.2 593 1739.5 597.4 1747.9 605.7 1751.2 621.7 1745.5 609.7 1756.2 610.7 1759.5 625 1757.8 625.6 1766.2 642.3 1779.5 648.9 1786.1 663.9 1794.5 662.3 1797.8 650.6 1792.8 657.3 1804.4 662.3 1812.8 662.3 1822.7 668.9 1829.4 678.9 1832.7 688.9 1836.1 688.9 1846 673.9 1836.1 688.9 1851 708.8 1869.3 717.2 1881 727.2 1900.9 733.8 1910.9 740.5 1925.9 752.8 1940.9 758.8 1949.2M1412.2 1601.4 1398.9 1611.4 1382.2 1621.4 1368.9 1626.4 1355.6 1634.7 1345.6 1624.7 1337.3 1626.4 1332.3 1619.7 1339 1634.7 1345.6 1641.4 1332.3 1646.4 1325.6 1639.7 1322.3 1649.7 1315.7 1653 1302.4 1656.3 1309 1668 1299 1673 1287.4 1673 1292.4 1686.3 1285.7 1707.9 1269.1 1706.3 1265.7 1697.9 1280.7 1707.9 1284.1 1716.2 1279.1 1729.6 1282.4 1746.2 1285.7 1762.8 1292.4 1776.2 1299 1789.5 1300.7 1796.1 1299 1807.8 1292.4 1821.1 1284.1 1836.1 1277.4 1852.7 1272.4 1872.7 1267.4 1892.6 1264.1 1912.6 1261.8 1940.9 1260.8 1952.5M1412.2 1601.4 1420 1588.1 1433.3 1579.8 1428.3 1574.8 1421.6 1558.2 1430 1559.8 1436.6 1554.8 1438.3 1566.5 1448.3 1568.2 1436.6 1578.1 1459.9 1566.5 1479.9 1558.2 1493.2 1553.2 1516.5 1550.5 1533.1 1554.8 1546.4 1561.5 1573.1 1563.8 1586.4 1558.2 1581.4 1553.2 1586.4 1547.2 1593 1545.9 1599.7 1549.9 1606.3 1549.9 1613 1558.2 1619.6 1563.2 1626.3 1563.8 1628 1559.8 1631.3 1568.2 1636.3 1574.8 1628 1577.1 1642.9 1582.5 1659.6 1586.5 1666.2 1577.1 1676.2 1574.8 1682.9 1578.1 1687.9 1586.5 1692.9 1583.1 1695.5 1569.8 1694.5 1563.2 1688.9 1559.2 1699.5 1561.5 1709.5 1568.2 1724.5 1571.5 1732.8 1578.1 1736.1 1588.1 1741.1 1583.1 1746.1 1586.5 1753.4 1577.1 1746.1 1568.2 1732.8 1565.8 1719.5 1559.2 1712.8 1551.5 1719.5 1544.9 1731.1 1538.2 1729.5 1529.9 1724.5 1524.9 1719.5 1529.9 1716.2 1533.9 1709.5 1531.6 1706.2 1526.6 1714.5 1519.9 1699.5 1524.9 1686.2 1528.2 1672.9 1521.6 1677.9 1511.6 1682.9 1506.6 1692.9 1507.6 1702.8 1513.2 1716.2 1514.9 1729.5 1504.9 1736.1 1504.9 1754.4 1498.3 1766.1 1501.6 1782.7 1499.3 1796 1497.6 1797.7 1480 1801 1477.3 1806 1482.6 1807.7 1491.6 1814.3 1498.3 1816 1501.6 1826 1499.9 1832.6 1491.6 1839.3 1495.9 1847.6 1482.6 1857.6 1480 1855.9 1488.3 1845.9 1493.3 1872.6 1487.3 1885.9 1480.6 1899.2 1480 1904.2 1484 1889.2 1487.3 1919.2 1494.9 1925.8 1491.6 1932.5 1489.3 1929.1 1498.3 1945.8 1509.9 1952.4 1521.6 1949.1 1523.2 1965.7 1519.2 1985.7 1509.3 1999 1502.6 2002.4 1494.9 2019 1488.3 2039 1495.9 2052.3 1509.9 2068.9 1523.2 2085.6 1533.2 2098.9 1542.5 2107.2 1553.2 2110.5 1576.5 2107.2 1599.8 2106.2 1619.7 2112.2 1626.4 2118.8 1624.7 2120.5 1616.4 2115.5 1609.8 2130.5 1614.7 2122.2 1633.1 2117.2 1641.4 2123.8 1646.4 2135.5 1663 2148.8 1675.6 2155.4 1676.3 2153.8 1668 2160.4 1668 2158.8 1683 2162.1 1697.9 2168.8 1693 2175.4 1683 2170.4 1696.3 2175.4 1697.9 2182.1 1716.2 2192 1726.2 2208.7 1730.2 2213.7 1737.9 2220 1744.5M2220 1744.5 2222.5 1746.2 2230.5 1757.8 2241.4 1762.8 2233.1 1761.2 2229.1 1767.8 2233.1 1773.5 2246.4 1769.5 2256.4 1766.2 2266.4 1759.5 2273.1 1756.2 2278 1752.9M2161.6 1460 2171.6 1480 2188.2 1503.3 2204.8 1526.6 2226.5 1549.9 2228.1 1556.5 2223.1 1569.8 2243.1 1599.8 2259.7 1626.4 2263.1 1634.7 2271.4 1649.7 2276.4 1666.3 2279.7 1686.3 2280.4 1702.9 2282.4 1716.2 2276.4 1729.6 2273.1 1741.2 2274.7 1752.9 2278 1752.9M2220 1277.9 2208.7 1286.2 2198.7 1299.6 2192 1306.2 2180.4 1309.5 2172.1 1316.2 2175.4 1324.5 2168.8 1339.5 2162.1 1349.5 2158.8 1362.8 2155.4 1376.1 2150.4 1391.1 2147.1 1399.4 2147.1 1419.4 2150.4 1432.7 2157.1 1449.3 2161.6 1460M2344.6 1133.2 2324.6 1138.2 2318 1146.5 2310.3 1141.5 2313 1154.8 2299.7 1169.8 2294.7 1183.1 2291.4 1181.4 2293 1194.7 2281.4 1198.1 2269.7 1201.4 2259.7 1208 2251.4 1218 2243.1 1233 2238.1 1246.3 2238.1 1256.3 2231.5 1264.6 2223.1 1269.6 2221.5 1277.9M2366.2 1030 2376.2 1041.6 2387.9 1055 2394.5 1069.9 2396.9 1083.2 2392.9 1089.2 2382.9 1094.9 2374.6 1100.6M2323 1043.3 2326.3 1060 2346.3 1053.3 2359.6 1051.6 2362.9 1066.6 2366.2 1053.3 2374.6 1051.6 2377.9 1063.3 2371.2 1076.6 2362.9 1089.9 2346.3 1089.2 2341.3 1083.2 2337.9 1089.9 2318 1089.9 2333 1094.9 2346.3 1098.2 2344.6 1109.9 2339.6 1114.9 2321.3 1111.5 2333 1119.9 2346.3 1118.2 2357.9 1116.5 2356.2 1136.5 2346.3 1134.8 2366.2 1114.9M2308 834.6 2299.7 849.6 2289.7 862.9 2296.3 876.2 2296.3 892.9 2299.7 906.2 2313 927.8 2299.7 919.5 2289.7 901.2 2299.7 919.5 2279.7 912.8 2271.4 889.5 2264.7 906.2 2263.1 921.1 2276.4 919.5 2299.7 932.8 2319.6 941.1 2321.3 952.8 2313 954.4 2276.4 931.1 2299.7 947.8 2319.6 962.7 2329.6 969.4 2318 976.1 2303 967.7 2316.3 982.7 2329.6 989.4 2326.3 999.4 2313 991 2299.7 984.4 2283 984.4 2306.3 987.7 2316.3 996 2326.3 1001 2333 994.4 2347.9 994.4 2356.2 1007.7 2366.2 1029.3M2486 600 2482.7 613.3 2496 614 2504.3 621.6 2511 630 2519.3 634.9 2529.3 635.9 2542.6 629.3 2539.3 618.3 2531 613.3 2522.6 615 2532.6 615 2540.9 621.6 2544.3 631.6 2529.3 639.9 2517.7 644.9 2512.7 651.6 2507.7 643.3 2501 653.2 2494.4 659.9 2487.7 663.2 2482.7 649.9 2479.4 658.2 2481 666.6 2479.4 674.9 2469.4 679.9 2446.1 689.9 2419.5 698.2 2399.5 713.1 2389.5 724.8 2381.2 739.8 2376.2 749.8 2372.9 756.4 2376.2 763.1 2387.9 761.4 2391.2 776.4 2392.9 799.7 2389.5 816.3 2382.9 819.6 2381.2 833 2376.2 836.3 2372.9 852.9 2367.9 861.2 2366.2 847.9 2356.2 846.3 2341.3 842.9 2333 833 2328 826.3 2333 813 2341.3 806.3 2347.9 796.3M2589.2 393.6 2595.9 398 2597.5 406.3 2604.2 407.9 2600.9 419.6 2590.9 426.2 2582.5 434.6 2574.2 436.2 2570.9 446.2 2559.3 446.2 2564.2 459.5 2547.6 469.5 2537.6 462.9 2536 452.9 2531 462.9 2532.6 479.5 2527.6 489.5 2516 497.8 2509.3 506.1 2499.4 512.8 2492.7 522.8 2494.4 527.8 2489.4 539.4 2486 552.7 2484.4 562.7 2482.7 577.7 2486 586 2496 588.7 2487.7 599.3M2823.8 299.8 2805.5 313.1 2785.6 333.1 2762.3 351.4 2747.3 364.7 2748.9 373 2739 378 2727.3 373 2719 386.3 2724 396.3 2717.3 409.6 2710.7 432.9 2699 446.2 2697.4 457.9 2684.1 463.5 2672.4 452.9 2662.4 456.2 2650.8 439.6 2647.4 422.9 2649.1 406.3 2662.4 389.6 2679.1 366.3 2695.7 343.1 2715.7 333.1 2737.3 322.4 2715.7 352.4 2702.4 343.7 2689 349.7 2677.4 344.7 2680.7 326.4 2687.4 313.1 2674.1 310.4 2677.4 326.4 2665.7 336.4 2649.1 356.4 2639.1 369.7 2629.1 363 2625.8 369.7 2632.5 371.3 2619.2 383 2605.8 391.3 2597.5 391.3 2589.2 393.6M2617.5 180 2614.2 186.6 2605.8 196.6 2599.2 203.3 2585.9 204.3 2572.6 202.3 2564.2 209.9 2554.3 214.9 2545.9 223.2 2559.3 218.3 2579.2 219.3 2594.2 228.2 2605.8 216.6 2614.2 211.6 2627.5 210.6 2628.1 223.2 2627.5 236.6 2620.8 254.9 2632.5 249.9 2640.8 251.5 2645.8 263.2 2659.1 276.5 2669.1 289.8 2685.7 286.5 2700.7 287.1 2694 298.1 2709 298.1 2722.3 295.8 2732.3 298.1 2742.3 291.5 2762.3 292.5 2772.2 283.1 2778.9 271.5 2788.9 278.2 2802.2 276.5 2815.5 273.2 2823.8 274.8M2283 501.1 2296.3 489.5 2313 469.5 2324.6 462.9 2328 446.2 2331.3 426.2 2337.9 411.3 2349.6 399.6 2361.2 381.3 2376.2 366.3 2396.2 351.4 2409.5 336.4 2419.5 323.1 2429.5 303.1 2436.1 283.1 2442.8 263.2 2452.8 246.5 2462.7 229.9 2474.4 213.3 2489.4 196.6 2507.7 180M2466.1 180 2454.4 193.3 2446.1 206.6 2439.4 226.6 2436.1 241.6 2427.8 254.9 2426.1 269.8 2424.5 283.1 2419.5 299.8 2412.8 313.1 2409.5 329.7 2399.5 343.1 2391.2 354.7 2369.6 371.3 2357.9 383 2347.9 396.3 2334.6 409.6 2329.6 422.9 2323 446.2 2313 459.5 2299.7 476.2 2283 501.1M2427.8 254.9 2399.5 253.2 2372.9 255.9M700 1859.4 713.3 1876 725 1899.3 733.3 1910.9 741.6 1929.2 752.6 1940.9 759.9 1952.5M214.1 325.9 220.2 328.3 231.2 330.8 239.7 336.9 243.3 344.2 250.6 345.4M309.1 228.5 314 227.2 318.9 230.9 321.3 235.8 316.4 238.2 311.5 235.8 309.1 238.2 307.9 245.5 311.5 252.8 315.2 257.7 320.1 254 322.5 249.2 318.9 243.1 317.6 239.4M301.8 266.2 305.5 271.1 304.2 277.2 300.6 283.3 296.9 286.9 301.8 286.9 305.5 279.6 309.1 273.5 307.9 267.4 301.8 266.2M277.4 291.8 283.5 286.9 289.6 289.4 286 294.2 281.1 293 277.4 291.8M311.5 240.6 314 248 317.6 250.4 315.2 243.1 311.5 240.6M304.2 269.9 306.7 276 303 282.1 301.8 274.8 304.2 269.9M295.7 211.4 300.6 205.3 306.7 209 309.1 204.1 315.2 205.3 317.6 209 312.8 211.4 309.1 218.7 306.7 222.4 301.8 217.5 295.7 211.4 301.8 210.2 307.9 212.6 312.8 207.8 306.7 206.5 301.8 213.8 307.9 218.7M287.8 181 289 188.3 288.4 196.8 289 203.5 290.2 196.8 290.8 188.3 289.6 181M292.7 182.2 295.7 187.1 294.5 193.1 292.7 188.3 292.7 182.2M309.1 182.2 314 182.8 315.2 187.1 310.3 187.7 309.1 182.2M108.2 837.9 111.5 823 114.8 819 120.5 819.6 126.5 826.3 136.4 825.6 146.4 833 156.4 836.9 146.4 834.6 136.4 829.6 126.5 829 116.5 831.3 116.5 846.3 119.8 862.9 112.5 852.9 109.2 841.3M129.8 1089.2 136.4 1087.5 146.4 1094.2 159.7 1096.9M129.8 1089.9 136.4 1088.2 143.1 1094.9M1954.1 193.3 1960.8 185 1965.7 180M1985.7 180 1999 188.3 2010.7 196.6 2019 203.3M2333 833 2339.6 846.3 2346.3 859.6 2362.9 872.9 2366.2 882.9 2371.2 892.9 2366.2 916.2 2362.9 929.5 2357.9 949.4 2349.6 961.1 2347.9 977.7 2342.9 969.4 2341.3 952.8 2347.9 929.5 2341.3 927.8 2337.9 917.8 2329.6 909.5 2316.3 911.2 2309.7 901.2 2313 892.9 2304.7 886.2 2303 869.6 2309.7 862.9 2306.3 846.3 2308 834.6M2377.9 754.7 2389.5 733.1 2412.8 723.1 2442.8 709.8 2451.1 697.2 2442.8 711.5 2469.4 697.2 2449.4 714.8 2419.5 736.4 2392.9 751.4 2377.9 754.7M2511 664.9 2522.6 658.2 2519.3 663.9 2511 664.9M2537.6 659.9 2547.6 653.2 2549.9 660.6 2537.6 659.9M1289 1712.9 1290.7 1742.9 1299 1776.2 1299 1789.5M1757.8 1520.6 1762.1 1531.6 1755.4 1547.2M414.3 1767.8 429.3 1737.9 432.6 1742.9 422.6 1762.8 424.3 1784.5 420 1779.5 414.3 1767.8M426 1787.8 436 1789.5 444.3 1802.8 440.9 1804.4 426 1787.8M2206.5 1541.5 2216.5 1559.8 2233.1 1586.5 2249.8 1613.1 2263.1 1634.7M2279.7 1751.2 2274.7 1766.2 2268.1 1777.8 2261.4 1782.8M2254.7 1787.8 2251.4 1791.1M2246.4 1796.1 2236.4 1801.1M2224.8 1806.1 2218.1 1799.4M2213.1 1806.1 2209.8 1812.8M2203.2 1815.4 2198.2 1818.8M2347.9 1904.3 2366.2 1910.9M2481 1937.6 2496 1939.9M2189.9 1939.9 2213.1 1937.6 2228.1 1939.9M233.6 180.4 248.2 192.5 262.8 205.3 277.4 213.8 282.3 212.6 286 212 289.6 216.3 292.1 215.7 292.1 210.2 291.4 204.1 286 202.9 285.4 194.4 284.8 184.6 283.5 180.4M2110 1945.9 2116.6 1939.9 2130 1932.6 2163.2 1922.6 2183.2 1910.9 2199.8 1905.9 2229.8 1905.3 2246.4 1900 2253.1 1905.9 2266.4 1900.9 2283 1896.6 2293 1902.6 2306.3 1904.3 2319.6 1900.9 2333 1904.3 2346.3 1907.6 2359.6 1919.3 2376.2 1925.9 2399.5 1920.9 2409.5 1920.9 2426.1 1925.9 2442.8 1930.9 2456.1 1937.6 2462.7 1939.9 2469.4 1945.9ZM2406.2 1910.9 2426.1 1905.9 2432.8 1912.6 2446.1 1914.3 2452.8 1922.6 2466.1 1925.9 2477.7 1927.6 2476.1 1935.9 2462.7 1932.6 2449.4 1925.9 2432.8 1917.6 2419.5 1912.6 2407.8 1912.6ZM2334.6 1651.4 2349.6 1659.7 2362.9 1653 2379.5 1643 2394.5 1639.7 2392.9 1636.4 2376.2 1641.4 2362.9 1643 2354.6 1641.4 2354.6 1649.7 2347.9 1654.7ZM2389.5 1624.7 2396.2 1621.4 2412.8 1620.7 2429.5 1631.4 2442.8 1634.7 2449.4 1649.7 2442.8 1659.7 2446.1 1673 2444.4 1679.6 2432.8 1673 2439.4 1668 2437.8 1649.7 2434.5 1638 2421.1 1631.4 2411.2 1624.7 2399.5 1624.7ZM2397.8 1734.6 2411.2 1736.2 2414.5 1744.5 2432.8 1761.2 2436.8 1774.5 2427.8 1784.5 2421.1 1789.5 2412.8 1779.5 2401.2 1781.1 2392.9 1774.5 2402.8 1771.2 2399.5 1764.5 2404.5 1749.5ZM2424.5 1792.8 2441.1 1786.1 2452.8 1796.1 2457.8 1809.4 2456.1 1819.4 2444.4 1821.7 2441.1 1812.8 2432.8 1802.8ZM2437.8 1736.2 2447.8 1731.2 2456.1 1732.9 2446.1 1739.5ZM2476.1 1693 2487.7 1697.9 2502.7 1701.3 2519.3 1711.3 2522.6 1726.2 2524.3 1742.9 2512.7 1734.6 2517.7 1729.6 2516 1716.2 2501 1706.3 2486 1702.9 2476.1 1702.9ZM2547.6 1732.9 2554.3 1734.6 2569.2 1751.2 2582.5 1761.2 2569.2 1765.5 2572.6 1759.5 2559.3 1747.9 2547.6 1736.2ZM2625.8 1751.2 2632.5 1750.2 2633.5 1757.8 2627.5 1762.2ZM2545.9 1801.1 2559.3 1804.4 2572.6 1811.1 2565.9 1812.8 2547.6 1806.1ZM2587.5 1791.1 2599.2 1802.8 2609.2 1817.8 2629.1 1826.1 2629.1 1836.1 2615.8 1824.4 2600.9 1821.1 2605.8 1814.4 2595.9 1802.8ZM2659.1 1827.7 2672.4 1831.1 2687.4 1827.7 2694 1839.4 2689 1852.7 2679.1 1864.3 2672.4 1870 2680.7 1854.4 2687.4 1839.4 2679.1 1836.1 2665.7 1837.7ZM2734 1832.7 2752.3 1832.1 2762.3 1836.1 2748.9 1837.7 2734 1839.4ZM2792.2 1857.7 2805.5 1857.7 2798.9 1864.3ZM2808.8 1844.4 2823.8 1849.4 2823.8 1852.7 2812.2 1849.4ZM2727.3 1925.9 2735.6 1917.6 2752.3 1915.9 2760.6 1904.3 2765.6 1904.3 2763.9 1917.6 2757.3 1929.2 2729 1939.9ZM2755.6 1891 2760.6 1886 2767.2 1890 2760.6 1896ZM2805.5 180 2798.9 190 2795.5 209.9 2792.2 243.2 2795.5 256.5 2805.5 266.5 2815.5 271.5 2823.8 269.8 2823.8 180ZM2672.4 236.6 2677.4 249.9 2695.7 259.9 2715.7 258.2 2742.3 248.2 2763.9 239.2 2757.3 253.2 2750.6 263.2 2752.3 273.2 2745.6 278.2 2732.3 276.5 2725.6 269.8 2715.7 276.5 2699 274.8 2695.7 268.2 2682.4 273.2 2669.1 266.5 2664.1 258.2 2667.4 244.9ZM2742.3 183.3 2750.6 181.6 2752.3 190 2745.6 195 2741.6 190ZM2610.8 407.9 2615.8 406.9 2616.5 416.3 2611.8 419.6ZM407.7 1454.3 414.3 1456 418.7 1464.3 419.3 1472.6 426.6 1475.9 425.3 1493.2 416 1482.6 407.7 1466ZM464.2 1490.9 477.6 1489.9 477.6 1504.2 467.6 1519.9 455.9 1509.9ZM141.4 1094.9 151.4 1096.6 149.8 1101.6 143.1 1101.6ZM156.4 1095.9 166.4 1099.9 174.7 1101.6 173.1 1105.9 163.1 1103.9ZM158.1 1148.1 164.7 1147.1 165.7 1153.8 159.7 1153.1ZM212 1151.5 219.6 1154.8 224.6 1161.5 223.6 1165.8 216.3 1163.1ZM203 1178.1 207 1177.1 213 1192.4 208 1193.1ZM144.8 1411 151.4 1412 151.4 1424.4 146.4 1430.3ZM291.2 1521.6 297.8 1514.9 299.5 1506.6 303.5 1508.3 304.5 1518.2 299.5 1528.2ZM489.2 1714.6 495.9 1701.3 500.9 1701.3 499.2 1707.9 492.5 1714.6ZM509.2 1767.8 517.5 1771.2 517.5 1781.1 510.8 1777.8ZM547.4 1822.7 552.4 1836.1 548.4 1836.1Z" fill="none" stroke="#000" stroke-width="4.17" stroke-linejoin="round" stroke-linecap="round"/>
</g>
<rect x="30.5" y="178.5" width="2790.0" height="1763.0" fill="none" stroke="#000" stroke-width="3.33"/>
<rect x="2994.4" y="1597.60" width="73.90000000000009" height="135.00" fill="#053061" shape-rendering="crispEdges"/>
<rect x="2994.4" y="1463.20" width="73.90000000000009" height="135.00" fill="#246aae" shape-rendering="crispEdges"/>
<rect x="2994.4" y="1328.80" width="73.90000000000009" height="135.00" fill="#529dc8" shape-rendering="crispEdges"/>
<rect x="2994.4" y="1194.40" width="73.90000000000009" height="135.00" fill="#a7d0e4" shape-rendering="crispEdges"/>
<rect x="2994.4" y="1060.00" width="73.90000000000009" height="135.00" fill="#e1edf3" shape-rendering="crispEdges"/>
<rect x="2994.4" y="925.60" width="73.90000000000009" height="135.00" fill="#fae8de" shape-rendering="crispEdges"/>
<rect x="2994.4" y="791.20" width="73.90000000000009" height="135.00" fill="#f7b799" shape-rendering="crispEdges"/>
<rect x="2994.4" y="656.80" width="73.90000000000009" height="135.00" fill="#dd7059" shape-rendering="crispEdges"/>
<rect x="2994.4" y="522.40" width="73.90000000000009" height="135.00" fill="#b72230" shape-rendering="crispEdges"/>
<rect x="2994.4" y="388.00" width="73.90000000000009" height="135.00" fill="#67001f" shape-rendering="crispEdges"/>
<path d="M2994.4 388.8 L3031.3500000000004 321.1 L3068.3 388.8Z" fill="#67001f"/>
<path d="M2994.4 1731.8 L3031.3500000000004 1799.5 L3068.3 1731.8Z" fill="#053061"/>
<path d="M2994.4 388.3 L3031.3500000000004 321.1 L3068.3 388.3 L3068.3 1732.3 L3031.3500000000004 1799.5 L2994.4 1732.3Z" fill="none" stroke="#000" stroke-width="3.33" stroke-linejoin="miter"/>
<path d="M3069.9 1732.30h14.6" stroke="#000" stroke-width="3.33"/>
<path d="M3069.9 1597.90h14.6" stroke="#000" stroke-width="3.33"/>
<path d="M3069.9 1463.50h14.6" stroke="#000" stroke-width="3.33"/>
<path d="M3069.9 1329.10h14.6" stroke="#000" stroke-width="3.33"/>
<path d="M3069.9 1194.70h14.6" stroke="#000" stroke-width="3.33"/>
<path d="M3069.9 1060.30h14.6" stroke="#000" stroke-width="3.33"/>
<path d="M3069.9 925.90h14.6" stroke="#000" stroke-width="3.33"/>
<path d="M3069.9 791.50h14.6" stroke="#000" stroke-width="3.33"/>
<path d="M3069.9 657.10h14.6" stroke="#000" stroke-width="3.33"/>
<path d="M3069.9 522.70h14.6" stroke="#000" stroke-width="3.33"/>
<path d="M3069.9 388.30h14.6" stroke="#000" stroke-width="3.33"/>
</svg>
<svg width="3250" height="1971" viewBox="0 0 3250 1971" style="position:absolute;left:0;top:0;font-family:'Liberation Sans',sans-serif">
<text x="900.3" y="80" font-size="69" textLength="1051.5" lengthAdjust="spacingAndGlyphs">Hit Rate (Above Normal): NOAA</text>
<text x="750.3" y="153.9" font-size="69" textLength="1346.5" lengthAdjust="spacingAndGlyphs">Variable: AT2M, Season: DJF, Start: 0923</text>
<text x="3098.6" y="1747.3" font-size="44" textLength="63.4" lengthAdjust="spacingAndGlyphs">0.0</text>
<text x="3098.6" y="1612.9" font-size="44" textLength="63.4" lengthAdjust="spacingAndGlyphs">0.1</text>
<text x="3098.6" y="1478.5" font-size="44" textLength="63.4" lengthAdjust="spacingAndGlyphs">0.2</text>
<text x="3098.6" y="1344.1" font-size="44" textLength="63.4" lengthAdjust="spacingAndGlyphs">0.3</text>
<text x="3098.6" y="1209.7" font-size="44" textLength="63.4" lengthAdjust="spacingAndGlyphs">0.4</text>
<text x="3098.6" y="1075.3" font-size="44" textLength="63.4" lengthAdjust="spacingAndGlyphs">0.5</text>
<text x="3098.6" y="940.9" font-size="44" textLength="63.4" lengthAdjust="spacingAndGlyphs">0.6</text>
<text x="3098.6" y="806.5" font-size="44" textLength="63.4" lengthAdjust="spacingAndGlyphs">0.7</text>
<text x="3098.6" y="672.1" font-size="44" textLength="63.4" lengthAdjust="spacingAndGlyphs">0.8</text>
<text x="3098.6" y="537.7" font-size="44" textLength="63.4" lengthAdjust="spacingAndGlyphs">0.9</text>
<text x="3098.6" y="403.3" font-size="44" textLength="63.4" lengthAdjust="spacingAndGlyphs">1.0</text>
<text transform="translate(3210.8,1145.2) rotate(-90)" font-size="44" textLength="168.7" lengthAdjust="spacingAndGlyphs">Hit Rate</text>
</svg>
</body></html>
